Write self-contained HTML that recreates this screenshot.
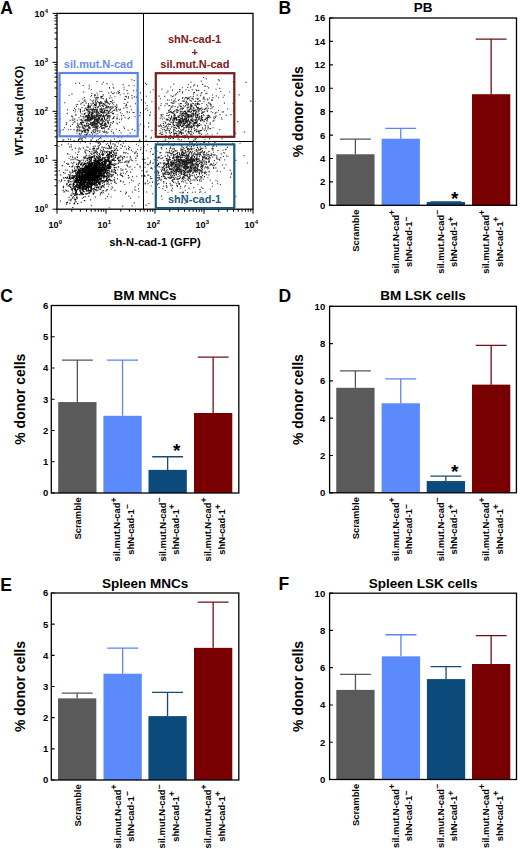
<!DOCTYPE html>
<html><head><meta charset="utf-8"><style>
html,body{margin:0;padding:0;background:#fff;width:520px;height:849px;overflow:hidden}
svg{display:block}
text{font-family:"Liberation Sans",sans-serif}
</style></head><body>
<svg width="520" height="849" viewBox="0 0 520 849">
<rect x="0" y="0" width="520" height="849" fill="#fff"/>
<path d="M104.9 166.2h1.1M60.4 181.7h1.1M72.3 165.7h1.1M70.4 200.0h1.1M69.8 201.0h1.1M85.9 189.9h1.1M70.4 177.5h1.1M130.1 198.1h1.1M135.3 190.2h1.1M89.0 164.5h1.1M67.3 180.9h1.1M130.9 180.1h1.1M119.1 160.3h1.1M110.8 147.7h1.1M123.5 152.2h1.1M79.7 143.0h1.1M59.8 175.0h1.1M68.1 139.1h1.1M133.6 202.9h1.1M90.7 205.8h1.1M90.1 199.9h1.1M63.3 192.0h1.1M75.5 201.6h1.1M132.6 181.0h1.1M119.8 181.3h1.1M74.9 200.1h1.1M61.6 165.9h1.1M87.1 183.6h1.1M109.3 152.0h1.1M84.6 150.1h1.1M73.4 203.8h1.1M98.8 138.5h1.1M138.1 188.9h1.1M74.5 171.6h1.1M116.7 150.1h1.1M87.5 172.3h1.1M92.3 193.3h1.1M109.8 155.1h1.1M94.8 146.1h1.1M132.1 160.7h1.1M103.0 121.1h1.1M84.3 178.5h1.1M105.4 191.1h1.1M99.8 174.9h1.1M68.4 200.0h1.1M76.4 189.9h1.1M131.5 169.4h1.1M119.0 140.9h1.1M104.7 160.8h1.1M94.4 169.0h1.1M124.2 184.5h1.1M125.6 192.0h1.1M135.4 160.8h1.1M81.5 160.0h1.1M86.4 158.2h1.1M90.5 168.3h1.1M162.0 169.8h1.1M127.5 162.6h1.1M73.2 179.3h1.1M83.3 158.9h1.1M87.1 193.5h1.1M101.7 173.6h1.1M104.3 164.9h1.1M162.3 141.2h1.1M125.6 152.5h1.1M125.1 193.6h1.1M90.2 200.0h1.1M95.3 171.4h1.1M92.9 190.8h1.1M99.2 165.6h1.1M119.4 140.7h1.1M127.1 135.3h1.1M93.1 182.5h1.1M140.1 149.6h1.1M115.0 173.5h1.1M139.6 167.8h1.1M88.0 104.7h1.1M131.2 160.3h1.1M85.3 135.1h1.1M77.7 182.1h1.1M109.9 144.0h1.1M119.3 161.3h1.1M167.8 166.5h1.1M95.3 174.4h1.1M127.3 153.5h1.1M98.3 183.1h1.1M157.1 142.1h1.1M133.4 141.2h1.1M69.0 166.5h1.1M128.0 146.2h1.1M105.1 125.9h1.1M101.6 146.7h1.1M102.5 158.7h1.1M72.2 172.5h1.1M84.4 173.5h1.1M110.3 140.1h1.1M107.6 176.4h1.1M145.5 136.1h1.1M78.6 148.0h1.1M86.8 165.7h1.1M113.9 180.2h1.1M113.7 172.3h1.1M98.2 161.4h1.1M77.0 179.2h1.1M141.7 153.3h1.1M113.4 148.1h1.1M95.4 180.5h1.1M72.8 196.7h1.1M129.7 133.1h1.1M77.5 182.1h1.1M107.1 154.3h1.1M94.4 183.1h1.1M128.4 177.4h1.1M106.1 190.1h1.1M85.4 170.6h1.1M159.7 144.3h1.1M85.7 150.3h1.1M71.8 186.1h1.1M86.5 193.9h1.1M118.3 162.8h1.1M120.3 173.0h1.1M100.9 171.4h1.1M86.7 190.8h1.1M128.9 182.8h1.1M91.8 176.2h1.1M92.1 170.5h1.1M73.0 171.7h1.1M103.5 165.9h1.1M71.8 156.2h1.1M83.9 191.9h1.1M162.9 176.2h1.1M134.1 189.7h1.1M143.0 176.1h1.1M92.8 150.1h1.1M138.7 183.5h1.1M114.8 145.3h1.1M132.2 151.8h1.1M179.7 171.6h1.1M84.4 151.6h1.1M113.8 180.1h1.1M100.7 173.9h1.1M103.8 175.5h1.1M113.1 151.7h1.1M92.9 194.4h1.1M141.0 175.9h1.1M123.1 126.8h1.1M84.3 164.2h1.1M135.9 144.2h1.1M137.5 124.4h1.1M103.0 141.9h1.1M73.9 182.1h1.1M138.0 145.7h1.1M81.5 140.2h1.1M85.1 163.1h1.1M107.5 176.0h1.1M75.1 153.0h1.1M121.3 137.7h1.1M134.5 186.9h1.1M144.2 176.4h1.1M102.1 131.3h1.1M67.0 153.6h1.1M98.8 176.9h1.1M113.7 135.3h1.1M86.8 168.6h1.1M175.6 122.8h1.1M98.1 181.2h1.1M62.7 129.6h1.1M112.6 113.5h1.1M110.0 136.3h1.1M107.8 186.7h1.1M92.4 168.1h1.1M97.2 131.6h1.1M126.9 166.3h1.1M126.7 171.2h1.1M89.7 167.4h1.1M108.9 156.5h1.1M126.6 165.2h1.1M131.0 180.2h1.1M80.3 189.0h1.1M78.5 177.0h1.1M90.5 164.0h1.1M97.1 149.1h1.1M127.2 161.0h1.1M114.3 154.7h1.1M94.5 165.2h1.1M108.5 184.6h1.1M152.0 154.5h1.1M90.7 191.5h1.1M95.0 135.6h1.1M147.3 158.3h1.1M104.4 152.9h1.1M103.0 147.8h1.1M99.7 194.9h1.1M103.9 184.4h1.1M122.5 141.7h1.1M103.2 141.4h1.1M92.9 171.6h1.1M120.4 148.4h1.1M125.9 192.6h1.1M90.5 140.2h1.1M92.7 131.0h1.1M104.7 160.2h1.1M90.9 172.5h1.1M88.6 176.2h1.1M107.1 181.3h1.1M62.9 177.8h1.1M130.8 141.6h1.1M78.6 139.2h1.1M101.4 172.7h1.1M103.5 185.2h1.1M98.4 163.0h1.1M110.6 189.1h1.1M102.0 167.7h1.1M90.9 205.7h1.1M128.2 162.2h1.1M72.2 157.6h1.1M122.8 143.3h1.1M129.2 160.3h1.1M103.3 185.6h1.1M109.7 162.2h1.1M69.6 177.0h1.1M92.7 146.9h1.1M91.0 180.8h1.1M77.3 165.5h1.1M120.5 173.6h1.1M128.6 167.1h1.1M61.0 144.9h1.1M150.0 161.1h1.1M85.1 178.0h1.1M156.6 180.2h1.1M110.6 197.0h1.1M70.0 156.7h1.1M64.8 170.0h1.1M144.4 167.3h1.1M87.5 147.2h1.1M142.6 132.2h1.1M79.3 137.8h1.1M131.9 176.6h1.1M93.9 181.0h1.1M95.4 175.0h1.1M139.1 140.6h1.1M89.5 164.1h1.1M136.8 164.4h1.1M93.8 155.2h1.1M89.9 199.8h1.1M109.6 152.6h1.1M76.3 159.8h1.1M144.4 176.0h1.1M124.9 153.2h1.1M106.4 177.3h1.1M113.1 152.7h1.1M96.3 120.1h1.1M97.1 181.4h1.1M113.0 132.2h1.1M103.0 190.5h1.1M103.6 132.1h1.1M58.4 146.2h1.1M105.4 172.3h1.1M114.9 170.4h1.1M79.5 179.9h1.1M78.5 151.3h1.1M93.1 190.8h1.1M107.5 132.2h1.1M76.6 168.7h1.1M105.3 148.1h1.1M138.4 141.8h1.1M117.0 178.9h1.1M108.3 176.6h1.1M134.3 167.3h1.1M77.9 140.5h1.1M120.5 132.7h1.1M113.7 153.1h1.1M106.6 151.8h1.1M95.7 176.8h1.1M70.0 139.4h1.1M99.3 184.2h1.1M108.2 180.6h1.1M113.0 158.2h1.1M100.0 137.5h1.1M92.1 171.8h1.1M97.5 157.3h1.1M115.6 173.2h1.1M85.6 190.8h1.1M74.9 170.1h1.1M107.0 196.6h1.1M73.4 129.6h1.1M84.7 152.7h1.1M80.8 187.8h1.1M105.9 131.9h1.1M114.1 177.6h1.1M101.5 169.3h1.1M62.0 165.5h1.1M143.0 138.2h1.1M89.5 176.8h1.1M88.8 170.9h1.1M99.5 159.8h1.1M98.9 168.7h1.1M134.3 130.6h1.1M114.4 181.7h1.1M130.1 172.1h1.1M141.4 175.7h1.1M138.4 129.3h1.1M128.1 178.3h1.1M136.1 176.3h1.1M77.0 178.7h1.1M124.8 161.9h1.1M86.3 108.1h1.1M81.0 164.2h1.1M177.7 171.2h1.1M100.8 128.2h1.1M89.5 161.1h1.1M108.2 170.5h1.1M130.1 166.7h1.1M145.0 183.0h1.1M101.4 128.4h1.1M134.0 153.1h1.1M147.8 164.7h1.1M87.0 173.2h1.1M114.3 190.4h1.1M144.3 159.2h1.1M96.2 112.1h1.1M71.0 178.6h1.1M95.8 178.5h1.1M125.9 149.1h1.1M85.5 173.3h1.1M107.0 160.0h1.1M123.8 162.3h1.1M107.2 157.7h1.1M113.4 154.9h1.1M73.2 178.6h1.1M86.2 191.5h1.1M86.3 179.6h1.1M97.2 142.8h1.1M101.3 164.4h1.1M108.0 174.7h1.1M145.3 136.6h1.1M145.8 172.0h1.1M87.6 190.9h1.1M74.4 158.1h1.1M149.9 151.8h1.1M108.7 207.7h1.1M151.2 178.5h1.1M143.5 146.5h1.1M93.4 190.9h1.1M87.5 158.9h1.1M90.6 140.4h1.1M81.7 188.7h1.1M76.0 184.6h1.1M94.0 182.2h1.1M123.5 156.5h1.1M91.1 179.3h1.1M90.6 161.1h1.1M91.9 182.2h1.1M70.5 200.2h1.1M140.4 147.9h1.1M67.8 143.9h1.1M109.1 146.4h1.1M131.9 192.0h1.1M136.7 156.4h1.1M76.3 176.8h1.1M95.5 142.1h1.1M73.4 188.4h1.1M120.9 175.4h1.1M90.4 139.8h1.1M111.1 175.1h1.1M141.8 159.3h1.1M117.1 169.8h1.1M127.6 130.3h1.1M122.4 169.5h1.1M120.2 191.4h1.1M115.0 164.0h1.1M148.2 175.2h1.1M112.1 187.8h1.1M105.0 151.3h1.1M94.0 148.6h1.1M111.3 169.6h1.1M101.6 193.3h1.1M83.5 125.6h1.1M137.0 149.3h1.1M70.1 181.6h1.1M77.2 185.9h1.1M68.4 158.2h1.1M107.1 143.3h1.1M71.9 171.2h1.1M97.9 141.9h1.1M149.3 115.7h1.1M108.9 147.2h1.1M151.0 137.2h1.1M72.9 180.7h1.1M125.2 173.7h1.1M81.4 194.7h1.1M113.7 154.9h1.1M115.7 152.2h1.1M76.5 197.1h1.1M74.6 195.2h1.1M63.2 139.7h1.1M69.2 203.4h1.1M105.3 171.3h1.1M118.1 167.1h1.1M60.3 175.0h1.1M76.8 156.7h1.1M127.3 93.6h1.1M92.9 122.8h1.1M92.4 122.8h1.1M81.9 138.8h1.1M109.0 88.1h1.1M99.1 102.9h1.1M106.6 108.0h1.1M107.1 120.9h1.1M99.8 120.2h1.1M83.4 117.5h1.1M79.9 111.3h1.1M111.9 118.7h1.1M107.0 122.4h1.1M143.2 125.5h1.1M85.2 119.7h1.1M100.5 135.3h1.1M74.7 111.8h1.1M119.7 94.8h1.1M74.2 119.3h1.1M109.8 101.6h1.1M118.8 90.8h1.1M93.7 109.8h1.1M111.4 106.2h1.1M60.2 130.4h1.1M96.6 124.5h1.1M70.4 129.5h1.1M102.3 112.3h1.1M108.2 128.9h1.1M88.0 124.8h1.1M116.4 106.2h1.1M105.3 110.3h1.1M90.8 119.8h1.1M94.0 124.9h1.1M69.5 120.3h1.1M102.9 127.5h1.1M144.9 109.0h1.1M94.0 132.7h1.1M103.7 104.8h1.1M80.6 103.2h1.1M110.6 101.6h1.1M107.8 111.2h1.1M100.3 124.7h1.1M67.8 129.7h1.1M88.8 115.9h1.1M128.9 117.6h1.1M91.3 109.5h1.1M116.4 118.6h1.1M96.5 127.9h1.1M59.6 118.9h1.1M108.3 112.6h1.1M101.6 105.1h1.1M83.9 110.0h1.1M82.2 98.8h1.1M95.1 95.1h1.1M91.7 124.0h1.1M103.0 106.6h1.1M97.5 118.7h1.1M95.1 112.1h1.1M87.6 117.1h1.1M76.0 106.5h1.1M96.5 93.0h1.1M93.6 123.2h1.1M109.5 110.1h1.1M112.7 93.6h1.1M101.3 111.5h1.1M76.8 136.0h1.1M97.7 139.8h1.1M109.8 95.9h1.1M98.6 122.8h1.1M98.1 143.5h1.1M98.3 115.5h1.1M116.7 123.9h1.1M88.7 85.0h1.1M119.0 122.3h1.1M85.3 122.0h1.1M83.7 97.5h1.1M99.7 124.3h1.1M105.3 124.8h1.1M70.7 146.9h1.1M102.5 128.5h1.1M76.3 126.9h1.1M118.9 92.5h1.1M123.4 93.8h1.1M128.0 96.9h1.1M115.7 110.0h1.1M88.3 113.8h1.1M116.2 104.9h1.1M101.2 124.8h1.1M111.9 111.2h1.1M97.5 146.2h1.1M102.1 141.7h1.1M100.7 97.6h1.1M126.5 90.6h1.1M91.4 100.8h1.1M131.2 79.7h1.1M149.9 92.2h1.1M71.7 116.4h1.1M92.9 103.5h1.1M81.6 120.5h1.1M101.9 123.4h1.1M88.3 115.5h1.1M96.3 110.9h1.1M121.5 113.7h1.1M118.4 109.4h1.1M106.7 115.9h1.1M105.2 123.5h1.1M95.6 102.4h1.1M103.0 114.8h1.1M105.6 101.7h1.1M105.7 124.3h1.1M113.0 117.2h1.1M71.0 116.1h1.1M121.0 119.7h1.1M122.6 84.6h1.1M109.6 124.0h1.1M76.6 129.9h1.1M117.6 91.6h1.1M87.3 105.7h1.1M95.7 115.8h1.1M105.8 100.6h1.1M109.5 115.8h1.1M112.6 87.3h1.1M110.2 107.6h1.1M101.7 112.6h1.1M82.3 128.0h1.1M95.2 99.1h1.1M96.5 81.6h1.1M78.4 117.7h1.1M87.8 117.5h1.1M113.0 118.4h1.1M64.0 127.7h1.1M74.9 148.1h1.1M104.2 130.8h1.1M110.4 122.5h1.1M99.2 132.1h1.1M62.4 140.1h1.1M96.7 107.9h1.1M80.7 133.6h1.1M116.5 117.3h1.1M99.3 117.3h1.1M102.7 108.7h1.1M101.3 91.4h1.1M94.6 125.9h1.1M115.9 109.2h1.1M113.2 88.2h1.1M107.0 110.9h1.1M126.7 108.0h1.1M88.2 118.9h1.1M119.9 112.8h1.1M108.7 118.9h1.1M74.0 108.4h1.1M96.5 111.5h1.1M93.4 124.0h1.1M95.6 128.7h1.1M109.4 127.4h1.1M106.5 83.6h1.1M93.8 116.3h1.1M106.0 119.9h1.1M81.7 140.9h1.1M111.4 130.0h1.1M113.9 92.8h1.1M111.3 102.0h1.1M101.5 98.3h1.1M95.4 127.4h1.1M75.1 109.9h1.1M105.0 126.9h1.1M82.2 136.7h1.1M81.3 131.0h1.1M102.9 82.2h1.1M79.9 115.9h1.1M134.9 103.7h1.1M66.7 113.4h1.1M105.6 107.1h1.1M78.9 124.3h1.1M107.9 121.2h1.1M83.5 127.0h1.1M101.9 116.2h1.1M94.3 110.8h1.1M91.9 118.3h1.1M107.6 107.3h1.1M129.8 106.3h1.1M88.4 117.8h1.1M120.9 115.6h1.1M91.0 95.5h1.1M106.2 126.4h1.1M136.2 90.3h1.1M69.1 146.9h1.1M88.4 121.4h1.1M73.6 140.5h1.1M103.1 132.2h1.1M92.4 110.4h1.1M104.5 108.6h1.1M131.6 98.1h1.1M112.3 84.3h1.1M91.0 116.4h1.1M106.4 106.5h1.1M123.6 89.2h1.1M101.4 110.1h1.1M94.0 95.9h1.1M116.5 123.2h1.1M76.4 133.3h1.1M96.8 141.2h1.1M100.2 101.5h1.1M102.0 96.4h1.1M85.5 125.8h1.1M84.2 99.9h1.1M98.8 117.3h1.1M92.8 108.1h1.1M109.5 103.5h1.1M102.9 115.3h1.1M102.7 112.6h1.1M86.3 146.9h1.1M85.2 130.7h1.1M97.4 97.3h1.1M78.0 139.6h1.1M96.2 97.4h1.1M88.7 121.2h1.1M78.2 109.0h1.1M105.8 98.9h1.1M95.7 134.0h1.1M81.5 116.6h1.1M84.1 113.9h1.1M97.2 107.4h1.1M144.9 83.3h1.1M71.6 149.6h1.1M92.2 101.9h1.1M88.0 103.5h1.1M119.3 110.3h1.1M83.6 101.1h1.1M128.9 112.3h1.1M80.7 124.6h1.1M95.5 109.5h1.1M71.7 120.1h1.1M75.1 115.3h1.1M87.4 112.7h1.1M114.9 106.7h1.1M121.2 118.2h1.1M94.8 129.6h1.1M104.6 103.0h1.1M88.6 110.0h1.1M105.4 119.8h1.1M91.2 93.6h1.1M107.4 103.1h1.1M86.8 116.6h1.1M90.4 103.7h1.1M97.1 101.4h1.1M102.9 116.4h1.1M75.7 104.7h1.1M123.5 87.3h1.1M87.5 111.7h1.1M112.8 107.1h1.1M94.6 97.6h1.1M126.7 112.7h1.1M59.8 132.3h1.1M133.0 90.7h1.1M93.4 112.1h1.1M74.0 119.0h1.1M95.6 102.3h1.1M144.8 103.0h1.1M109.1 110.7h1.1M77.3 124.8h1.1M97.1 128.5h1.1M117.9 93.1h1.1M78.7 134.1h1.1M96.1 115.7h1.1M88.8 107.4h1.1M140.9 99.9h1.1M85.2 101.2h1.1M125.5 107.2h1.1M82.2 111.3h1.1M87.7 125.8h1.1M124.5 117.8h1.1M113.1 113.2h1.1M65.8 124.6h1.1M109.9 106.9h1.1M107.9 103.4h1.1M81.5 107.6h1.1M96.3 100.0h1.1M103.9 111.3h1.1M93.8 123.9h1.1M78.5 101.3h1.1M87.0 119.5h1.1M97.3 121.4h1.1M76.8 127.8h1.1M92.3 103.7h1.1M79.4 138.9h1.1M93.1 100.3h1.1M101.3 120.9h1.1M90.6 140.1h1.1M101.6 84.1h1.1M133.8 96.9h1.1M123.6 103.5h1.1M76.8 129.3h1.1M116.3 93.0h1.1M100.8 108.1h1.1M89.8 99.7h1.1M89.4 120.7h1.1M101.9 119.0h1.1M118.8 92.8h1.1M102.8 98.6h1.1M89.0 112.7h1.1M87.3 120.0h1.1M92.1 118.1h1.1M108.3 106.5h1.1M131.4 95.6h1.1M73.0 110.5h1.1M82.7 85.5h1.1M95.9 123.5h1.1M94.3 135.4h1.1M97.3 95.0h1.1M104.4 101.1h1.1M76.3 130.5h1.1M86.7 133.4h1.1M123.2 108.1h1.1M111.8 123.2h1.1M107.5 107.6h1.1M92.7 122.5h1.1M94.7 121.3h1.1M104.2 104.4h1.1M97.4 130.5h1.1M83.4 130.7h1.1M104.6 123.3h1.1M112.1 100.4h1.1M87.2 134.0h1.1M110.8 92.1h1.1M113.2 110.4h1.1M68.6 95.3h1.1M93.0 103.0h1.1M102.4 121.2h1.1M107.0 102.5h1.1M111.3 108.5h1.1M66.9 109.7h1.1M84.8 142.4h1.1M120.0 109.2h1.1M100.6 111.9h1.1M108.4 113.4h1.1M106.5 113.3h1.1M133.4 112.5h1.1M79.4 127.4h1.1M108.9 87.5h1.1M83.3 118.8h1.1M118.8 119.2h1.1M125.1 105.8h1.1M72.6 122.7h1.1M109.3 115.5h1.1M94.7 117.2h1.1M97.4 122.4h1.1M90.2 96.8h1.1M75.5 114.6h1.1M86.2 129.6h1.1M108.8 104.5h1.1M115.4 108.5h1.1M100.6 138.8h1.1M72.1 124.5h1.1M139.9 92.9h1.1M114.4 96.8h1.1M101.3 103.4h1.1M80.7 122.7h1.1M80.3 104.3h1.1M90.6 89.5h1.1M90.4 136.7h1.1M125.6 96.4h1.1M107.7 123.4h1.1M106.3 110.7h1.1M82.1 125.0h1.1M87.2 129.1h1.1M89.5 128.4h1.1M96.5 98.4h1.1M101.4 128.2h1.1M88.2 106.3h1.1M105.4 112.3h1.1M117.6 137.0h1.1M124.6 99.5h1.1M105.2 132.2h1.1M79.5 119.8h1.1M102.2 119.7h1.1M124.1 99.4h1.1M91.8 123.0h1.1M94.6 104.2h1.1M87.3 107.5h1.1M107.7 112.7h1.1M94.0 94.9h1.1M80.0 112.7h1.1M98.7 122.1h1.1M111.3 97.8h1.1M112.3 93.5h1.1M108.1 93.0h1.1M114.4 106.3h1.1M91.0 112.9h1.1M93.5 118.4h1.1M113.6 102.3h1.1M89.7 143.6h1.1M95.3 109.5h1.1M93.1 118.2h1.1M86.8 120.3h1.1M79.2 126.7h1.1M99.3 91.3h1.1M92.9 132.0h1.1M92.4 116.6h1.1M94.2 115.4h1.1M77.0 104.5h1.1M125.8 104.1h1.1M90.1 117.5h1.1M110.1 125.1h1.1M74.2 121.9h1.1M83.6 105.4h1.1M94.1 117.8h1.1M88.3 107.1h1.1M91.3 123.3h1.1M95.0 100.9h1.1M124.6 96.7h1.1M95.3 112.3h1.1M96.3 114.3h1.1M89.2 111.9h1.1M137.3 80.2h1.1M126.0 96.9h1.1M104.9 102.0h1.1M111.7 107.9h1.1M85.2 117.5h1.1M83.2 92.1h1.1M102.1 110.6h1.1M109.0 126.2h1.1M86.1 124.8h1.1M89.1 127.0h1.1M110.3 112.8h1.1M101.4 105.5h1.1M105.2 120.6h1.1M126.6 111.5h1.1M91.2 125.3h1.1M105.4 115.2h1.1M76.5 131.5h1.1M112.9 104.8h1.1M81.5 127.0h1.1M77.7 125.7h1.1M95.4 119.7h1.1M133.7 80.5h1.1M84.8 113.0h1.1M80.7 131.4h1.1M104.8 105.4h1.1M88.7 86.7h1.1M127.8 98.3h1.1M64.1 102.8h1.1M82.9 148.1h1.1M174.6 118.5h1.1M196.1 111.5h1.1M176.3 112.6h1.1M184.6 114.5h1.1M162.2 145.6h1.1M208.2 115.7h1.1M191.0 116.5h1.1M196.7 131.0h1.1M198.1 110.9h1.1M184.9 97.6h1.1M164.1 96.4h1.1M216.7 84.2h1.1M180.8 115.9h1.1M207.9 108.3h1.1M227.1 109.0h1.1M174.2 110.9h1.1M184.2 101.1h1.1M181.0 130.3h1.1M215.0 117.8h1.1M179.6 109.4h1.1M173.1 127.3h1.1M220.9 117.8h1.1M206.3 107.9h1.1M173.6 120.2h1.1M201.9 127.9h1.1M238.5 94.9h1.1M218.0 97.7h1.1M176.1 111.7h1.1M174.9 98.8h1.1M173.5 119.5h1.1M190.1 109.8h1.1M197.8 126.3h1.1M191.8 89.7h1.1M201.0 130.4h1.1M164.7 127.0h1.1M184.2 135.7h1.1M204.8 86.3h1.1M210.4 106.0h1.1M195.2 129.9h1.1M187.3 115.3h1.1M174.9 94.9h1.1M186.6 108.0h1.1M165.0 135.5h1.1M193.0 85.7h1.1M167.0 99.9h1.1M192.9 114.1h1.1M139.8 124.2h1.1M197.7 119.1h1.1M202.0 84.4h1.1M137.9 109.9h1.1M208.0 87.9h1.1M207.7 127.4h1.1M170.1 108.2h1.1M162.4 127.5h1.1M209.8 104.6h1.1M185.9 97.6h1.1M206.7 121.0h1.1M185.5 117.4h1.1M178.9 125.9h1.1M190.5 82.3h1.1M159.8 98.8h1.1M159.6 126.0h1.1M171.7 118.3h1.1M170.1 135.8h1.1M221.5 119.3h1.1M157.8 125.9h1.1M167.8 119.9h1.1M203.0 112.1h1.1M204.0 130.2h1.1M218.8 80.8h1.1M223.9 103.1h1.1M197.1 103.4h1.1M197.6 101.6h1.1M164.6 140.6h1.1M168.2 110.7h1.1M175.3 101.8h1.1M190.8 122.9h1.1M165.8 125.3h1.1M171.3 118.0h1.1M173.7 118.9h1.1M210.0 108.8h1.1M193.0 103.6h1.1M189.0 125.7h1.1M187.3 120.6h1.1M204.7 129.0h1.1M186.7 135.7h1.1M190.8 126.2h1.1M158.7 126.4h1.1M200.7 107.7h1.1M200.2 95.6h1.1M216.1 146.1h1.1M195.0 105.1h1.1M199.0 116.3h1.1M232.8 110.7h1.1M181.9 92.9h1.1M160.6 114.5h1.1M168.4 117.5h1.1M193.1 92.8h1.1M196.9 85.9h1.1M197.6 98.5h1.1M212.4 121.3h1.1M197.3 120.2h1.1M164.3 127.3h1.1M177.2 119.7h1.1M146.3 108.3h1.1M187.5 125.4h1.1M169.3 131.2h1.1M182.2 97.6h1.1M187.4 116.9h1.1M154.9 128.8h1.1M197.0 98.9h1.1M193.9 92.5h1.1M160.6 117.2h1.1M184.0 99.0h1.1M204.1 111.8h1.1M186.6 120.2h1.1M205.3 108.6h1.1M190.4 108.5h1.1M203.4 97.1h1.1M207.1 137.4h1.1M171.9 90.1h1.1M206.1 123.3h1.1M204.3 109.7h1.1M193.3 111.2h1.1M177.3 110.4h1.1M173.8 117.4h1.1M173.5 100.9h1.1M168.7 100.2h1.1M191.2 109.3h1.1M179.0 89.6h1.1M193.5 124.4h1.1M196.9 127.2h1.1M203.0 77.5h1.1M210.7 104.7h1.1M180.5 121.0h1.1M196.4 110.1h1.1M186.2 121.4h1.1M192.5 123.4h1.1M191.0 126.4h1.1M191.6 142.0h1.1M166.0 126.2h1.1M154.0 147.7h1.1M179.7 89.8h1.1M207.3 99.7h1.1M164.3 105.7h1.1M207.4 126.0h1.1M199.6 146.9h1.1M197.2 117.2h1.1M165.3 103.7h1.1M183.8 113.6h1.1M186.9 114.3h1.1M150.3 138.3h1.1M200.3 124.9h1.1M193.4 126.6h1.1M127.2 102.4h1.1M209.6 124.4h1.1M184.2 106.7h1.1M187.7 103.6h1.1M205.1 127.8h1.1M179.5 113.4h1.1M160.2 105.5h1.1M171.1 100.0h1.1M181.7 117.8h1.1M232.4 103.3h1.1M230.5 114.6h1.1M179.0 115.4h1.1M178.0 110.8h1.1M206.0 130.9h1.1M194.4 101.5h1.1M187.8 138.6h1.1M173.4 125.7h1.1M222.6 97.3h1.1M204.3 99.7h1.1M164.6 131.8h1.1M155.3 124.0h1.1M169.4 112.1h1.1M191.1 109.1h1.1M192.7 99.2h1.1M184.9 120.2h1.1M161.9 129.7h1.1M190.1 107.4h1.1M197.0 104.5h1.1M186.6 110.0h1.1M193.1 140.4h1.1M197.9 107.3h1.1M182.9 105.8h1.1M167.3 120.0h1.1M194.9 120.7h1.1M165.1 123.0h1.1M203.4 101.7h1.1M194.3 105.1h1.1M172.8 124.8h1.1M194.8 116.0h1.1M212.7 106.6h1.1M140.0 112.6h1.1M178.0 100.5h1.1M168.2 138.5h1.1M193.8 129.0h1.1M174.0 143.7h1.1M188.2 115.5h1.1M156.4 151.3h1.1M160.6 128.3h1.1M178.3 116.7h1.1M179.1 91.6h1.1M188.8 99.1h1.1M191.0 101.2h1.1M214.6 113.7h1.1M212.5 127.7h1.1M197.3 99.7h1.1M174.5 127.4h1.1M187.7 118.1h1.1M196.7 95.1h1.1M190.1 87.1h1.1M202.7 99.2h1.1M180.4 115.1h1.1M220.1 91.5h1.1M180.7 114.5h1.1M190.5 120.0h1.1M218.2 79.6h1.1M159.6 144.9h1.1M181.9 87.7h1.1M159.5 130.7h1.1M180.1 124.4h1.1M180.8 103.6h1.1M170.4 95.7h1.1M196.0 119.5h1.1M170.2 111.8h1.1M192.4 124.1h1.1M173.8 134.6h1.1M181.6 116.7h1.1M164.6 126.6h1.1M206.8 119.3h1.1M169.0 130.6h1.1M193.1 94.0h1.1M182.5 119.2h1.1M187.2 123.1h1.1M209.9 103.9h1.1M191.5 114.3h1.1M154.8 129.7h1.1M195.9 106.5h1.1M131.7 129.4h1.1M182.1 91.8h1.1M189.8 131.5h1.1M159.6 118.5h1.1M191.3 115.0h1.1M171.8 96.6h1.1M223.8 95.2h1.1M174.6 106.6h1.1M243.7 132.1h1.1M204.3 86.1h1.1M170.6 106.5h1.1M181.3 133.2h1.1M219.4 114.6h1.1M170.2 87.0h1.1M192.9 114.7h1.1M190.5 126.8h1.1M158.4 109.1h1.1M187.0 125.5h1.1M167.9 115.6h1.1M154.6 115.2h1.1M180.6 111.3h1.1M215.5 89.3h1.1M205.7 78.9h1.1M203.9 142.4h1.1M187.2 105.7h1.1M191.5 98.2h1.1M218.0 110.5h1.1M193.2 108.8h1.1M190.0 134.9h1.1M179.5 113.4h1.1M210.4 106.2h1.1M233.8 88.3h1.1M178.7 121.3h1.1M151.4 130.6h1.1M201.4 103.5h1.1M199.4 135.3h1.1M185.6 102.8h1.1M205.5 93.6h1.1M186.9 107.8h1.1M169.7 133.5h1.1M157.4 137.6h1.1M194.4 125.5h1.1M158.3 107.2h1.1M195.2 113.4h1.1M165.0 123.3h1.1M180.1 112.7h1.1M164.1 129.7h1.1M167.4 91.1h1.1M182.6 120.9h1.1M199.6 108.8h1.1M200.8 81.1h1.1M184.4 113.5h1.1M184.9 141.5h1.1M219.2 88.4h1.1M199.0 116.9h1.1M197.2 103.9h1.1M192.8 96.4h1.1M206.6 86.5h1.1M202.8 97.7h1.1M209.7 122.9h1.1M207.6 115.8h1.1M168.2 112.4h1.1M185.2 131.8h1.1M185.5 112.3h1.1M184.8 103.1h1.1M191.8 118.2h1.1M186.9 98.1h1.1M177.1 92.4h1.1M190.6 133.8h1.1M146.7 105.6h1.1M206.8 111.5h1.1M187.2 87.4h1.1M172.9 121.3h1.1M195.5 105.4h1.1M191.9 103.3h1.1M173.4 84.1h1.1M155.8 129.8h1.1M167.2 124.5h1.1M171.3 107.4h1.1M215.7 95.9h1.1M180.9 134.2h1.1M177.0 107.1h1.1M171.1 127.3h1.1M171.3 103.0h1.1M197.1 114.4h1.1M157.2 141.8h1.1M157.7 173.1h1.1M206.5 117.9h1.1M192.2 118.1h1.1M188.3 137.0h1.1M197.7 90.5h1.1M213.1 117.0h1.1M148.1 126.9h1.1M180.9 106.7h1.1M215.6 115.9h1.1M178.5 122.6h1.1M192.8 133.1h1.1M194.1 84.9h1.1M185.8 119.1h1.1M163.8 118.2h1.1M174.5 116.4h1.1M151.3 101.8h1.1M204.9 119.4h1.1M160.1 132.9h1.1M198.4 90.3h1.1M150.0 112.2h1.1M182.7 101.4h1.1M173.3 145.5h1.1M182.2 114.9h1.1M203.6 98.5h1.1M211.5 108.1h1.1M211.1 100.1h1.1M188.6 116.9h1.1M195.8 121.5h1.1M194.9 114.9h1.1M205.6 118.1h1.1M172.7 101.8h1.1M207.9 102.9h1.1M191.4 105.3h1.1M209.0 103.0h1.1M196.4 107.8h1.1M195.5 98.2h1.1M173.2 115.9h1.1M188.2 129.4h1.1M162.0 119.0h1.1M174.2 100.2h1.1M189.8 122.5h1.1M210.1 117.2h1.1M164.7 122.3h1.1M245.4 82.4h1.1M180.2 103.7h1.1M208.8 98.0h1.1M214.6 116.9h1.1M150.7 148.6h1.1M185.0 117.7h1.1M212.0 95.0h1.1M134.5 116.7h1.1M204.1 109.5h1.1M176.0 128.2h1.1M188.2 131.3h1.1M207.2 136.6h1.1M159.0 136.7h1.1M198.9 123.5h1.1M169.1 105.5h1.1M184.4 136.1h1.1M207.0 117.3h1.1M199.4 118.4h1.1M201.4 113.5h1.1M198.5 132.6h1.1M171.1 112.1h1.1M197.7 118.9h1.1M222.8 111.9h1.1M186.0 101.4h1.1M195.5 89.8h1.1M187.8 121.1h1.1M233.1 89.7h1.1M164.4 137.6h1.1M203.4 115.7h1.1M192.3 98.2h1.1M195.6 115.0h1.1M177.5 138.9h1.1M166.2 120.3h1.1M182.4 112.2h1.1M182.0 98.1h1.1M173.5 135.9h1.1M184.3 148.8h1.1M188.2 90.5h1.1M212.0 112.8h1.1M185.4 130.5h1.1M172.3 113.4h1.1M173.2 116.0h1.1M191.3 98.7h1.1M188.6 116.3h1.1M210.7 111.7h1.1M229.1 92.0h1.1M215.0 112.7h1.1M165.3 130.4h1.1M178.5 99.6h1.1M192.1 136.0h1.1M191.2 132.0h1.1M162.2 116.8h1.1M194.7 139.9h1.1M173.1 130.4h1.1M195.3 111.9h1.1M203.3 137.4h1.1M145.7 96.2h1.1M147.1 110.4h1.1M185.4 127.4h1.1M198.0 104.0h1.1M190.1 96.7h1.1M198.4 133.4h1.1M134.7 152.9h1.1M170.6 102.5h1.1M170.8 112.7h1.1M188.9 127.8h1.1M180.4 148.5h1.1M166.3 92.7h1.1M178.8 123.5h1.1M232.8 81.7h1.1M187.9 84.5h1.1M183.9 113.6h1.1M175.9 93.9h1.1M181.5 147.2h1.1M191.3 163.1h1.1M188.2 148.4h1.1M223.0 156.5h1.1M170.9 171.5h1.1M199.4 177.0h1.1M200.5 160.6h1.1M190.8 170.4h1.1M182.0 165.0h1.1M166.6 169.6h1.1M170.7 155.1h1.1M205.3 173.0h1.1M216.2 158.6h1.1M172.8 164.7h1.1M197.6 165.8h1.1M196.0 158.4h1.1M204.0 151.6h1.1M193.4 167.8h1.1M201.2 177.4h1.1M203.7 157.5h1.1M159.7 158.7h1.1M186.1 159.5h1.1M161.5 199.2h1.1M146.8 171.3h1.1M176.9 185.8h1.1M157.4 174.7h1.1M200.4 171.6h1.1M206.2 158.7h1.1M175.4 151.1h1.1M183.4 163.1h1.1M191.9 192.2h1.1M182.2 167.1h1.1M192.6 172.2h1.1M193.0 160.5h1.1M178.4 168.5h1.1M174.1 175.8h1.1M179.7 175.7h1.1M212.0 186.2h1.1M179.6 169.5h1.1M214.5 154.7h1.1M180.4 161.0h1.1M208.2 142.5h1.1M158.4 156.9h1.1M177.2 179.0h1.1M189.1 142.5h1.1M202.7 179.3h1.1M188.2 177.5h1.1M225.1 149.4h1.1M184.3 153.3h1.1M193.3 165.1h1.1M177.0 171.0h1.1M223.7 168.1h1.1M200.8 152.5h1.1M193.9 159.7h1.1M156.5 177.5h1.1M193.4 161.2h1.1M176.3 163.0h1.1M188.1 144.8h1.1M198.2 142.0h1.1M170.7 164.3h1.1M190.8 162.8h1.1M208.4 172.0h1.1M200.2 191.7h1.1M188.5 188.4h1.1M169.2 178.5h1.1M182.7 192.6h1.1M163.2 174.2h1.1M204.1 154.1h1.1M199.1 192.2h1.1M160.3 163.1h1.1M185.8 162.2h1.1M162.2 172.7h1.1M131.6 205.9h1.1M208.0 151.8h1.1M212.9 167.6h1.1M158.1 172.4h1.1M169.1 158.0h1.1M192.5 168.1h1.1M181.1 171.4h1.1M166.7 159.7h1.1M174.4 160.6h1.1M179.8 159.5h1.1M181.1 181.5h1.1M193.5 170.6h1.1M184.2 171.1h1.1M175.3 177.6h1.1M186.1 161.3h1.1M158.2 183.6h1.1M212.3 150.1h1.1M149.3 163.8h1.1M183.1 159.5h1.1M194.9 166.9h1.1M195.8 165.0h1.1M196.8 177.0h1.1M204.5 139.2h1.1M165.5 172.1h1.1M187.9 171.8h1.1M186.4 155.0h1.1M179.3 173.1h1.1M174.7 166.3h1.1M207.2 145.3h1.1M178.7 184.4h1.1M172.8 154.5h1.1M186.5 180.0h1.1M181.9 163.7h1.1M186.7 155.2h1.1M180.0 158.3h1.1M191.5 156.0h1.1M186.6 156.4h1.1M197.7 166.6h1.1M205.6 136.5h1.1M176.7 186.7h1.1M222.0 165.0h1.1M184.8 185.6h1.1M196.0 151.3h1.1M181.0 139.7h1.1M179.4 161.9h1.1M150.0 178.4h1.1M219.0 159.3h1.1M171.2 166.2h1.1M172.4 171.4h1.1M208.0 161.4h1.1M182.6 149.0h1.1M230.6 174.3h1.1M214.4 142.8h1.1M201.9 165.1h1.1M196.6 177.4h1.1M198.6 152.9h1.1M162.8 176.0h1.1M197.4 184.2h1.1M189.1 162.8h1.1M182.9 182.0h1.1M193.4 168.5h1.1M161.1 179.5h1.1M207.3 168.9h1.1M210.6 155.6h1.1M162.4 173.4h1.1M194.1 176.8h1.1M217.5 159.4h1.1M197.3 169.7h1.1M163.3 160.5h1.1M169.1 173.9h1.1M208.4 174.9h1.1M225.5 164.7h1.1M168.6 178.3h1.1M186.0 160.9h1.1M170.4 165.4h1.1M183.9 173.9h1.1M199.0 180.9h1.1M186.9 167.8h1.1M180.0 186.4h1.1M225.5 149.3h1.1M189.4 181.6h1.1M180.0 157.0h1.1M208.9 161.6h1.1M183.3 154.9h1.1M186.4 175.8h1.1M207.5 167.0h1.1M164.2 163.4h1.1M198.3 153.6h1.1M204.9 155.0h1.1M193.7 145.8h1.1M180.3 157.8h1.1M183.7 157.4h1.1M158.6 187.5h1.1M190.7 183.5h1.1M191.0 160.1h1.1M202.4 157.9h1.1M191.0 168.5h1.1M178.0 163.8h1.1M170.7 169.6h1.1M190.0 176.8h1.1M190.9 168.7h1.1M209.6 157.9h1.1M185.2 160.5h1.1M184.1 187.0h1.1M182.9 160.9h1.1M178.9 171.7h1.1M178.8 157.0h1.1M143.9 175.3h1.1M158.2 178.9h1.1M163.6 170.7h1.1M198.3 169.9h1.1M186.2 168.3h1.1M184.5 150.5h1.1M199.6 133.2h1.1M172.1 185.3h1.1M206.3 152.7h1.1M200.6 181.1h1.1M174.2 172.0h1.1M212.0 148.4h1.1M163.2 183.0h1.1M165.3 171.6h1.1M183.6 168.6h1.1M191.1 153.8h1.1M186.4 175.5h1.1M152.2 193.8h1.1M179.7 163.1h1.1M193.1 187.7h1.1M232.3 143.4h1.1M213.9 160.6h1.1M183.0 147.8h1.1M159.2 152.8h1.1M202.3 188.4h1.1M171.6 191.0h1.1M195.8 178.6h1.1M187.2 145.4h1.1M180.9 172.3h1.1M193.7 170.1h1.1M181.6 170.2h1.1M178.0 174.2h1.1M212.1 146.3h1.1M197.5 161.3h1.1M177.0 156.3h1.1M171.7 168.3h1.1M192.2 170.0h1.1M194.7 154.4h1.1M202.0 158.2h1.1M212.9 152.2h1.1M196.0 164.1h1.1M170.4 185.0h1.1M226.0 156.0h1.1M210.5 163.6h1.1M196.9 145.2h1.1M210.7 153.9h1.1M163.1 186.3h1.1M176.9 159.8h1.1M176.1 165.6h1.1M205.4 148.1h1.1M170.9 190.0h1.1M179.5 164.1h1.1M212.5 148.6h1.1M201.9 169.6h1.1M184.7 182.0h1.1M224.2 159.9h1.1M166.7 187.0h1.1M196.6 166.3h1.1M182.6 167.1h1.1M195.0 158.6h1.1M180.1 163.1h1.1M169.4 165.9h1.1M192.8 169.7h1.1M162.4 174.6h1.1M197.5 164.4h1.1M183.8 176.0h1.1M204.2 160.2h1.1M173.4 154.6h1.1M171.6 162.6h1.1M190.1 151.7h1.1M202.3 137.2h1.1M149.3 182.2h1.1M184.6 152.7h1.1M193.6 148.3h1.1M156.5 164.5h1.1M174.5 182.8h1.1M197.9 159.2h1.1M176.0 183.8h1.1M175.1 170.3h1.1M217.3 150.5h1.1M172.1 179.7h1.1M173.7 179.5h1.1M144.8 183.9h1.1M162.7 162.7h1.1M162.6 170.1h1.1M214.2 142.1h1.1M208.7 155.9h1.1M164.2 176.6h1.1M229.7 170.4h1.1M207.3 177.7h1.1M186.6 175.8h1.1M206.1 172.3h1.1M195.2 167.0h1.1M184.4 203.4h1.1M160.9 196.1h1.1M181.2 202.9h1.1M188.7 171.3h1.1M182.3 174.0h1.1M177.8 183.8h1.1M206.0 162.5h1.1M168.7 177.7h1.1M199.6 149.8h1.1M182.1 180.8h1.1M189.8 167.8h1.1M169.7 183.6h1.1M186.1 164.5h1.1M165.4 152.2h1.1M156.9 184.4h1.1M191.6 180.2h1.1M181.0 152.9h1.1M198.5 150.4h1.1M191.2 161.7h1.1M167.4 171.0h1.1M168.8 151.9h1.1M148.3 203.5h1.1M170.5 185.9h1.1M208.7 151.3h1.1M207.8 136.3h1.1M202.8 165.9h1.1M200.9 187.3h1.1M201.4 172.3h1.1M200.9 176.7h1.1M151.1 168.0h1.1M171.9 175.5h1.1M202.9 142.1h1.1M217.1 181.3h1.1M193.9 171.8h1.1M172.7 145.3h1.1M172.4 148.7h1.1M179.0 176.0h1.1M170.5 174.8h1.1M150.1 176.5h1.1M192.4 172.9h1.1M187.0 192.6h1.1M184.6 172.5h1.1M211.5 135.0h1.1M197.4 161.2h1.1M168.7 156.9h1.1M194.6 154.0h1.1M160.5 180.8h1.1M205.9 157.9h1.1M187.6 153.2h1.1M183.4 167.9h1.1M194.3 153.9h1.1M216.3 163.0h1.1M177.5 167.3h1.1M170.3 178.0h1.1M225.2 149.6h1.1M190.4 175.2h1.1M214.3 155.3h1.1M174.5 171.3h1.1M191.8 157.9h1.1M175.7 172.8h1.1M191.6 142.6h1.1M192.9 198.8h1.1M171.8 163.7h1.1M216.3 157.5h1.1M191.4 159.2h1.1M147.3 175.1h1.1M184.3 173.0h1.1M167.9 167.3h1.1M162.6 170.3h1.1M170.5 155.3h1.1M174.4 159.7h1.1M182.8 153.4h1.1M179.6 192.5h1.1M146.9 164.4h1.1M172.6 158.4h1.1M204.2 163.0h1.1M167.4 192.2h1.1M191.6 143.5h1.1M189.2 146.3h1.1M179.2 171.3h1.1M194.1 168.5h1.1M167.2 155.9h1.1M172.1 149.2h1.1M164.0 162.9h1.1M198.7 172.1h1.1M212.3 157.0h1.1M177.4 179.8h1.1M208.9 157.5h1.1M147.0 180.9h1.1M173.0 179.7h1.1M167.6 172.3h1.1M220.0 157.8h1.1M172.2 160.5h1.1M199.0 154.7h1.1M150.6 186.0h1.1M188.1 163.3h1.1M194.4 154.5h1.1M189.0 174.4h1.1M138.3 191.5h1.1M190.2 165.5h1.1M199.0 152.7h1.1M215.3 167.9h1.1M204.6 192.2h1.1M152.0 169.0h1.1M176.7 150.8h1.1M200.6 151.8h1.1M167.8 161.8h1.1M192.3 148.7h1.1M173.1 156.7h1.1M192.1 175.7h1.1M204.6 171.3h1.1M179.7 188.3h1.1M243.6 155.6h1.1M187.8 160.3h1.1M197.8 176.6h1.1M170.5 164.9h1.1M186.7 162.4h1.1M177.1 155.3h1.1M164.6 190.5h1.1M162.3 188.6h1.1M190.4 159.5h1.1M184.0 163.8h1.1M137.7 185.1h1.1M147.5 183.6h1.1M184.6 178.3h1.1M185.9 167.9h1.1M199.9 167.1h1.1M157.5 158.3h1.1M196.8 159.3h1.1M173.8 148.6h1.1M184.7 190.3h1.1M190.0 183.4h1.1M208.3 168.0h1.1M201.9 175.4h1.1M211.8 183.2h1.1M177.8 182.0h1.1M175.0 150.7h1.1M164.2 172.3h1.1M166.8 143.9h1.1M176.1 160.2h1.1M173.0 155.8h1.1M200.2 161.7h1.1M196.5 168.1h1.1M197.3 151.0h1.1M188.1 162.6h1.1M208.2 162.5h1.1M188.4 164.1h1.1M204.3 158.0h1.1M186.5 136.1h1.1M198.9 156.6h1.1M188.9 176.0h1.1M164.6 178.0h1.1M153.6 159.8h1.1M222.5 150.2h1.1M195.2 167.0h1.1M191.2 152.6h1.1M186.5 175.4h1.1M174.9 160.7h1.1M239.5 143.2h1.1M165.4 173.0h1.1M194.8 192.1h1.1M184.6 163.3h1.1M163.3 167.9h1.1M165.9 183.4h1.1M171.7 166.1h1.1M181.2 171.1h1.1M168.5 144.5h1.1M203.4 164.4h1.1M164.6 174.4h1.1M189.2 149.3h1.1M220.0 171.8h1.1M202.7 157.8h1.1M164.6 172.2h1.1M126.0 172.0h1.1M196.1 142.5h1.1M193.9 156.8h1.1M169.6 153.4h1.1M212.9 163.3h1.1M182.8 179.1h1.1M186.3 158.7h1.1M160.7 155.5h1.1M191.2 159.9h1.1M174.4 157.6h1.1M178.1 171.9h1.1M207.9 161.2h1.1M189.1 160.3h1.1M159.0 177.6h1.1M204.1 173.6h1.1M209.6 180.0h1.1M169.1 166.4h1.1M182.4 177.4h1.1M186.9 163.5h1.1M177.8 156.3h1.1M194.4 180.2h1.1M200.7 166.5h1.1M178.2 171.5h1.1M227.4 156.3h1.1M172.8 169.6h1.1M172.4 158.4h1.1M231.1 173.1h1.1M235.3 160.4h1.1M188.6 169.2h1.1M187.3 178.7h1.1M171.9 188.4h1.1M207.5 156.5h1.1M192.5 172.0h1.1M169.6 168.7h1.1M197.1 171.0h1.1M211.5 154.3h1.1M209.7 189.3h1.1M226.9 147.4h1.1M210.7 164.4h1.1M197.0 168.7h1.1M184.8 163.0h1.1M201.0 173.3h1.1M209.4 157.3h1.1M201.3 156.0h1.1M206.7 159.3h1.1M187.9 156.5h1.1M206.1 174.8h1.1M212.2 165.3h1.1M187.8 178.7h1.1M156.9 160.2h1.1M220.4 157.8h1.1M194.6 153.9h1.1M178.9 170.5h1.1M196.5 179.3h1.1M183.2 171.1h1.1M148.1 123.1h1.1M219.3 160.3h1.1M213.3 120.6h1.1M175.7 179.2h1.1M93.8 152.3h1.1M143.4 127.0h1.1M118.0 143.0h1.1M93.5 132.5h1.1M138.4 126.1h1.1M144.5 183.3h1.1M165.9 187.1h1.1M115.8 129.3h1.1M71.4 94.1h1.1M221.5 138.6h1.1M185.5 89.8h1.1M177.1 122.7h1.1M177.0 168.3h1.1M100.8 120.9h1.1M216.8 133.3h1.1M100.1 103.2h1.1M205.5 135.0h1.1M143.8 159.3h1.1M216.4 112.2h1.1M146.1 84.4h1.1M123.2 115.6h1.1M225.8 115.4h1.1M178.7 139.7h1.1M95.4 130.9h1.1M107.8 194.0h1.1M219.3 129.7h1.1M136.6 155.3h1.1M135.8 97.1h1.1M88.5 88.7h1.1M169.4 109.5h1.1M200.7 148.9h1.1M132.5 112.5h1.1M90.7 159.4h1.1M235.1 133.1h1.1M123.9 128.4h1.1M149.4 114.7h1.1M145.5 205.1h1.1M72.5 120.1h1.1M106.9 161.5h1.1M138.2 197.0h1.1M170.3 148.2h1.1M145.6 140.3h1.1M203.8 152.5h1.1M230.0 177.1h1.1M116.3 163.7h1.1M237.2 121.6h1.1M205.5 158.4h1.1M183.0 155.4h1.1M169.1 148.3h1.1M235.2 196.2h1.1M143.1 148.2h1.1M162.4 141.7h1.1M102.1 116.4h1.1M191.1 101.1h1.1M174.6 133.4h1.1M204.5 161.9h1.1M146.1 192.0h1.1M230.5 136.3h1.1M127.7 118.6h1.1M165.8 119.1h1.1M89.5 192.9h1.1M114.2 144.3h1.1M169.8 119.4h1.1M122.2 170.3h1.1M133.6 85.7h1.1M147.1 144.7h1.1M172.6 138.2h1.1M201.1 134.4h1.1M201.2 92.6h1.1M215.4 180.2h1.1M128.4 85.6h1.1M70.7 144.9h1.1M139.4 166.4h1.1M250.2 101.1h1.1M189.6 142.8h1.1M145.7 150.8h1.1M114.3 171.8h1.1M78.9 83.1h1.1M102.8 161.2h1.1M123.0 141.7h1.1M161.3 148.9h1.1M177.5 107.0h1.1M74.1 121.4h1.1M178.3 104.0h1.1M119.0 130.5h1.1M197.5 165.8h1.1M121.5 157.0h1.1M105.1 198.7h1.1M102.5 151.5h1.1M219.9 184.5h1.1M209.0 138.6h1.1M89.8 172.3h1.1M75.1 83.5h1.1M181.6 193.0h1.1M203.1 161.8h1.1M165.6 132.9h1.1M224.6 144.7h1.1M109.0 157.5h1.1M80.8 138.9h1.1M160.6 103.7h1.1M211.2 148.7h1.1M68.4 154.2h1.1M208.7 160.2h1.1M130.8 109.8h1.1M168.2 142.8h1.1M143.5 163.0h1.1M163.3 121.7h1.1M203.9 90.8h1.1M113.9 116.7h1.1M216.9 183.7h1.1M207.4 128.9h1.1M209.5 165.1h1.1M197.4 112.3h1.1M126.0 105.4h1.1M120.2 144.6h1.1M116.1 142.1h1.1M83.8 200.5h1.1M118.4 160.9h1.1M122.1 206.1h1.1M185.5 195.9h1.1M92.7 124.2h1.1M221.6 112.0h1.1M82.7 147.8h1.1M191.3 154.3h1.1M209.8 164.6h1.1M158.5 96.1h1.1M200.4 93.7h1.1M152.7 89.7h1.1M60.2 84.9h1.1M178.0 135.9h1.1M222.8 152.8h1.1M63.8 161.9h1.1M125.0 140.7h1.1M176.9 198.2h1.1M175.6 109.9h1.1M220.6 153.9h1.1M190.0 179.9h1.1M187.1 172.3h1.1M161.5 89.1h1.1M207.1 133.7h1.1M139.4 115.6h1.1M150.3 168.3h1.1M162.1 134.4h1.1M247.0 163.0h1.1M193.4 179.9h1.1" stroke="#3a3a3a" stroke-width="1.1" fill="none"/>
<path d="M83.8 187.0h1.1M106.3 175.2h1.1M90.7 160.9h1.1M91.1 188.2h1.1M86.9 169.9h1.1M110.9 146.3h1.1M80.7 178.0h1.1M73.8 167.0h1.1M91.8 172.3h1.1M86.9 179.2h1.1M87.9 172.5h1.1M105.5 169.2h1.1M117.3 150.5h1.1M70.2 187.4h1.1M86.5 158.4h1.1M95.8 169.9h1.1M88.9 163.8h1.1M89.8 168.1h1.1M89.7 172.6h1.1M110.1 161.8h1.1M79.1 161.0h1.1M84.3 158.4h1.1M93.3 167.5h1.1M99.2 172.8h1.1M94.7 174.6h1.1M114.0 167.6h1.1M102.3 180.7h1.1M100.3 172.4h1.1M94.2 170.3h1.1M75.1 171.3h1.1M78.0 170.3h1.1M77.7 176.4h1.1M99.2 170.3h1.1M86.3 178.8h1.1M80.2 180.4h1.1M97.4 166.4h1.1M105.9 170.0h1.1M71.7 188.9h1.1M120.2 156.0h1.1M97.2 172.2h1.1M90.4 166.6h1.1M103.9 151.2h1.1M98.8 173.3h1.1M89.0 179.3h1.1M124.3 146.8h1.1M77.7 177.1h1.1M106.7 189.6h1.1M102.4 155.5h1.1M78.9 178.6h1.1M95.1 173.2h1.1M93.8 156.8h1.1M129.1 147.5h1.1M92.9 193.4h1.1M99.7 178.1h1.1M107.8 168.8h1.1M99.5 174.1h1.1M78.9 182.6h1.1M106.2 173.9h1.1M95.6 167.7h1.1M98.8 162.2h1.1M111.3 159.8h1.1M114.3 167.5h1.1M102.6 168.7h1.1M103.2 172.5h1.1M68.1 164.1h1.1M100.0 181.1h1.1M111.5 187.0h1.1M97.1 184.8h1.1M94.5 166.4h1.1M78.6 171.1h1.1M118.0 157.3h1.1M119.3 140.9h1.1M93.7 179.7h1.1M97.6 161.8h1.1M97.2 180.2h1.1M120.4 168.8h1.1M89.4 149.1h1.1M97.8 171.6h1.1M87.9 166.5h1.1M88.7 157.2h1.1M77.5 174.7h1.1M103.2 161.6h1.1M91.0 185.4h1.1M93.7 152.3h1.1M102.8 177.3h1.1M121.8 175.9h1.1M98.2 175.1h1.1M112.4 164.5h1.1M82.1 178.9h1.1M96.7 154.4h1.1M94.9 176.6h1.1M99.9 171.3h1.1M100.2 175.3h1.1M122.8 181.9h1.1M71.1 195.7h1.1M101.9 170.3h1.1M83.1 197.4h1.1M104.1 147.2h1.1M61.0 179.9h1.1M78.9 176.7h1.1M67.9 181.0h1.1M121.8 159.7h1.1M75.2 180.0h1.1M106.6 183.1h1.1M96.3 187.7h1.1M74.4 193.9h1.1M88.1 170.1h1.1M107.8 168.6h1.1M97.1 178.4h1.1M102.0 152.1h1.1M92.0 176.4h1.1M99.1 175.7h1.1M90.9 175.5h1.1M108.8 179.5h1.1M128.4 161.4h1.1M95.3 159.7h1.1M98.4 169.1h1.1M81.6 169.2h1.1M87.8 182.1h1.1M110.4 148.6h1.1M84.8 188.4h1.1M84.5 182.1h1.1M99.2 178.9h1.1M88.2 173.0h1.1M113.9 139.0h1.1M72.2 207.5h1.1M99.0 165.1h1.1M112.8 174.3h1.1M81.9 184.4h1.1M89.9 181.8h1.1M111.5 180.8h1.1M119.6 156.9h1.1M90.2 190.4h1.1M64.5 173.2h1.1M113.5 167.7h1.1M114.8 153.2h1.1M89.6 172.2h1.1M64.2 191.7h1.1M117.2 158.7h1.1M101.7 185.5h1.1M100.0 143.9h1.1M94.6 170.8h1.1M85.7 167.8h1.1M95.4 184.0h1.1M113.1 152.2h1.1M117.6 159.8h1.1M62.9 187.6h1.1M85.8 184.6h1.1M125.6 161.0h1.1M87.6 170.3h1.1M76.3 183.7h1.1M86.9 158.3h1.1M95.2 173.6h1.1M98.6 178.0h1.1M85.1 170.1h1.1M97.1 182.2h1.1M76.8 157.5h1.1M89.0 151.6h1.1M75.7 166.6h1.1M88.2 168.9h1.1M93.1 171.6h1.1M112.7 156.6h1.1M99.8 165.8h1.1M97.6 177.0h1.1M99.8 160.9h1.1M93.4 155.7h1.1M103.0 149.2h1.1M114.2 182.4h1.1M106.5 133.2h1.1M112.7 155.4h1.1M102.8 182.3h1.1M92.0 178.0h1.1M102.5 154.6h1.1M102.2 165.0h1.1M98.6 178.0h1.1M81.4 194.3h1.1M64.3 180.5h1.1M104.2 172.8h1.1M107.2 164.6h1.1M112.5 171.2h1.1M85.1 193.9h1.1M107.5 157.1h1.1M79.2 163.3h1.1M102.7 169.5h1.1M111.0 180.5h1.1M87.8 183.4h1.1M88.1 177.7h1.1M76.3 170.4h1.1M75.1 195.0h1.1M97.8 161.1h1.1M96.1 169.8h1.1M108.2 161.8h1.1M108.7 178.9h1.1M80.8 168.5h1.1M96.8 162.2h1.1M80.4 160.8h1.1M106.3 168.1h1.1M96.8 163.2h1.1M83.7 183.1h1.1M88.9 161.2h1.1M93.7 166.5h1.1M96.7 181.5h1.1M106.5 159.8h1.1M122.4 158.4h1.1M92.9 177.9h1.1M88.1 170.5h1.1M98.9 179.3h1.1M89.9 175.7h1.1M70.5 199.1h1.1M87.5 150.7h1.1M93.7 150.7h1.1M72.5 159.6h1.1M84.8 166.5h1.1M87.5 188.0h1.1M108.9 167.2h1.1M73.7 184.5h1.1M91.4 174.1h1.1M126.5 157.2h1.1M94.0 167.0h1.1M103.8 168.7h1.1M93.8 172.6h1.1M66.1 163.5h1.1M92.3 167.2h1.1M108.5 177.2h1.1M78.5 176.7h1.1M98.9 165.5h1.1M108.9 152.9h1.1M107.1 155.6h1.1M79.4 194.6h1.1M79.9 177.3h1.1M66.7 177.4h1.1M92.1 134.1h1.1M100.2 159.4h1.1M93.5 147.0h1.1M72.3 163.6h1.1M83.3 187.9h1.1M100.1 175.1h1.1M85.4 153.3h1.1M88.0 185.3h1.1M99.6 172.4h1.1M99.5 157.3h1.1M102.4 173.8h1.1M71.2 166.8h1.1M58.7 180.7h1.1M83.1 160.7h1.1M90.9 159.3h1.1M96.4 179.7h1.1M81.4 163.3h1.1M78.8 167.3h1.1M99.5 155.2h1.1M95.4 172.1h1.1M94.8 166.0h1.1M86.4 186.5h1.1M82.3 170.2h1.1M89.9 157.8h1.1M78.1 175.7h1.1M77.7 182.6h1.1M85.1 165.6h1.1M113.3 160.5h1.1M108.0 183.0h1.1M112.0 150.9h1.1M93.4 171.6h1.1M98.4 184.0h1.1M71.8 178.2h1.1M82.1 168.6h1.1M108.6 146.9h1.1M101.8 170.0h1.1M108.1 167.0h1.1M103.9 161.8h1.1M95.0 170.3h1.1M99.4 182.3h1.1M101.5 175.8h1.1M96.2 151.8h1.1M101.2 165.3h1.1M102.3 165.9h1.1M101.1 174.2h1.1M82.9 175.5h1.1M87.5 167.1h1.1M79.1 175.2h1.1M98.6 145.4h1.1M65.4 190.1h1.1M88.4 167.0h1.1M130.8 150.3h1.1M84.2 164.7h1.1M76.5 177.2h1.1M89.0 161.9h1.1M106.7 148.4h1.1M96.6 177.0h1.1M100.7 159.9h1.1M98.7 172.4h1.1M83.2 164.2h1.1M139.2 139.8h1.1M86.1 155.2h1.1M84.6 171.0h1.1M85.1 170.4h1.1M103.4 170.7h1.1M101.5 167.2h1.1M104.5 160.7h1.1M101.5 175.2h1.1M75.9 185.2h1.1M105.3 168.9h1.1M94.9 178.9h1.1M90.4 171.9h1.1M72.4 181.7h1.1M88.6 177.9h1.1M82.2 173.3h1.1M96.5 173.2h1.1M80.9 192.9h1.1M100.3 176.1h1.1M94.3 165.3h1.1M71.8 170.0h1.1M85.7 175.3h1.1M82.1 177.0h1.1M113.7 169.8h1.1M88.8 171.3h1.1M75.8 191.8h1.1M86.0 169.9h1.1M105.6 160.1h1.1M95.8 189.8h1.1M105.2 180.5h1.1M86.6 183.0h1.1M123.3 152.9h1.1M101.9 152.8h1.1M113.6 163.2h1.1M76.6 183.0h1.1M80.7 182.2h1.1M106.8 154.8h1.1M92.0 171.4h1.1M90.1 170.6h1.1M101.2 168.9h1.1M85.4 193.5h1.1M107.6 165.0h1.1M85.5 155.9h1.1M95.8 157.0h1.1M76.3 163.2h1.1M97.3 158.1h1.1M88.1 181.1h1.1M110.3 163.6h1.1M107.0 153.7h1.1M109.0 162.9h1.1M97.6 158.4h1.1M95.4 151.8h1.1M101.4 154.4h1.1M99.0 183.9h1.1M88.4 157.7h1.1M97.9 182.5h1.1M82.9 194.0h1.1M86.2 173.4h1.1M103.6 162.8h1.1M110.9 150.8h1.1M85.9 175.5h1.1M85.9 183.8h1.1M115.0 155.5h1.1M88.1 186.3h1.1M130.4 159.1h1.1M97.4 171.9h1.1M84.3 180.9h1.1M108.1 159.5h1.1M120.3 155.9h1.1M68.3 174.5h1.1M118.7 157.7h1.1M92.0 174.0h1.1M110.5 148.0h1.1M101.7 190.9h1.1M67.2 177.0h1.1M96.7 157.6h1.1M109.2 162.8h1.1M112.8 133.3h1.1M114.2 146.3h1.1M95.7 150.3h1.1M85.9 164.0h1.1M86.7 173.6h1.1M92.4 175.1h1.1M89.4 186.7h1.1M95.5 178.8h1.1M66.0 204.1h1.1M100.6 172.6h1.1M91.6 166.0h1.1M136.8 153.7h1.1M102.5 158.2h1.1M84.5 169.2h1.1M111.3 176.6h1.1M82.1 188.0h1.1M87.6 177.2h1.1M73.0 193.9h1.1M119.7 162.7h1.1M95.1 152.6h1.1M77.8 180.2h1.1M87.1 160.5h1.1M108.6 161.3h1.1M97.7 159.2h1.1M107.8 176.9h1.1M85.7 182.2h1.1M81.2 169.1h1.1M95.9 168.5h1.1M100.6 150.7h1.1M83.4 178.0h1.1M82.2 185.0h1.1M112.1 160.5h1.1M70.7 162.8h1.1M107.8 156.3h1.1M101.0 171.3h1.1M108.7 163.5h1.1M125.6 162.0h1.1M96.9 152.3h1.1M108.5 166.3h1.1M78.2 173.2h1.1M86.1 177.9h1.1M106.0 166.6h1.1M120.0 160.2h1.1M110.8 151.2h1.1M128.0 148.5h1.1M92.3 156.9h1.1M89.4 156.0h1.1M111.9 164.3h1.1M94.6 168.9h1.1M84.5 156.9h1.1M75.2 172.8h1.1M108.6 160.0h1.1M88.7 192.7h1.1M107.8 173.1h1.1M79.5 189.9h1.1M99.7 144.2h1.1M79.8 178.8h1.1M109.1 165.2h1.1M74.8 188.2h1.1M90.9 177.2h1.1M109.7 156.1h1.1M93.5 191.8h1.1M104.1 181.0h1.1M87.5 173.4h1.1M110.7 183.3h1.1M97.5 160.8h1.1M86.1 190.1h1.1M113.6 179.6h1.1M78.2 169.6h1.1M82.4 181.7h1.1M92.8 166.6h1.1M88.1 180.4h1.1M128.4 149.8h1.1M84.2 200.6h1.1M108.3 167.2h1.1M108.4 159.8h1.1M73.6 198.0h1.1M69.0 184.2h1.1M100.4 161.0h1.1M100.8 192.5h1.1M95.3 159.1h1.1M107.7 154.4h1.1M89.7 173.5h1.1M73.8 171.2h1.1M103.6 176.2h1.1M77.2 172.1h1.1M95.9 162.0h1.1M95.8 164.2h1.1M69.8 175.0h1.1M112.5 143.9h1.1M110.7 160.3h1.1M120.2 180.9h1.1M82.4 187.1h1.1M93.3 179.6h1.1M78.4 162.5h1.1M88.7 173.4h1.1M72.2 170.8h1.1M105.1 171.6h1.1M96.5 165.4h1.1M100.0 166.3h1.1M87.1 173.7h1.1M109.3 152.1h1.1M88.6 155.2h1.1M59.9 201.0h1.1M77.8 164.4h1.1M87.1 160.4h1.1M106.4 157.7h1.1M86.4 166.7h1.1M92.7 174.1h1.1M91.2 184.3h1.1M105.4 165.1h1.1M89.6 175.5h1.1M86.4 175.6h1.1M89.2 183.8h1.1M91.8 149.0h1.1M89.3 177.7h1.1M66.0 178.2h1.1M96.3 153.3h1.1M84.9 176.4h1.1M97.4 162.9h1.1M103.2 170.6h1.1M117.7 166.8h1.1M95.9 140.3h1.1M86.2 174.5h1.1M103.6 187.2h1.1M81.7 189.2h1.1M126.3 165.0h1.1M101.4 166.0h1.1M105.8 144.2h1.1M83.8 163.4h1.1M70.2 195.3h1.1M121.5 162.4h1.1M91.8 162.6h1.1M95.0 166.0h1.1M96.9 171.1h1.1M93.6 148.9h1.1M100.1 161.5h1.1M81.8 198.3h1.1M122.3 176.8h1.1M86.7 173.8h1.1M98.7 189.1h1.1M115.7 148.4h1.1M102.8 153.9h1.1M77.1 154.5h1.1M74.3 195.5h1.1M94.8 164.9h1.1M115.6 183.4h1.1M95.4 173.0h1.1M78.4 183.2h1.1M73.3 162.4h1.1M85.8 194.0h1.1M95.6 164.5h1.1M105.2 160.2h1.1M96.3 141.5h1.1M89.8 184.3h1.1M103.6 175.3h1.1M98.9 159.2h1.1M88.1 175.3h1.1M94.9 174.2h1.1M129.8 156.7h1.1M98.1 168.4h1.1M116.9 175.0h1.1M87.2 171.8h1.1M91.8 164.2h1.1M68.1 182.4h1.1M79.8 149.0h1.1M106.7 151.3h1.1M129.7 157.3h1.1M112.9 160.0h1.1M99.5 156.1h1.1M97.4 171.9h1.1M74.7 158.9h1.1M90.8 168.8h1.1M106.2 167.9h1.1M87.8 182.9h1.1M103.2 154.1h1.1M86.2 186.6h1.1M80.6 202.2h1.1M78.1 175.9h1.1M75.7 191.9h1.1M66.6 170.2h1.1M99.2 142.4h1.1M95.4 176.5h1.1M98.0 167.8h1.1M112.0 159.9h1.1M108.9 152.5h1.1M86.0 172.1h1.1M117.8 163.3h1.1M109.9 179.9h1.1M93.5 167.8h1.1M91.4 151.7h1.1M82.2 193.9h1.1M87.2 182.2h1.1M97.1 176.2h1.1M104.2 165.1h1.1M102.9 192.2h1.1M93.4 171.4h1.1M111.2 164.3h1.1M103.7 140.6h1.1M102.1 157.4h1.1M108.4 151.6h1.1M88.9 173.3h1.1M92.4 175.4h1.1M94.8 160.3h1.1M100.4 186.7h1.1M81.5 165.8h1.1M115.1 149.8h1.1M93.3 173.5h1.1M74.1 168.7h1.1M104.8 169.5h1.1M123.9 156.9h1.1M94.2 166.4h1.1M122.8 173.2h1.1M89.1 174.5h1.1M89.5 176.7h1.1M79.6 168.4h1.1M83.1 157.3h1.1M116.7 146.5h1.1M76.8 178.2h1.1M114.9 149.9h1.1M85.1 185.7h1.1M77.8 152.3h1.1M99.8 152.1h1.1M93.0 148.5h1.1M106.3 177.8h1.1M68.5 181.0h1.1M96.8 161.8h1.1M74.1 170.5h1.1M135.6 151.9h1.1M89.4 168.3h1.1M98.6 169.6h1.1M67.1 164.1h1.1M94.8 183.9h1.1M79.0 185.4h1.1M111.5 164.5h1.1M98.2 182.3h1.1M101.4 162.5h1.1M84.2 174.9h1.1M91.9 180.4h1.1M115.1 160.5h1.1M79.8 177.1h1.1M69.9 187.5h1.1M97.5 161.5h1.1M82.9 186.6h1.1M94.0 181.5h1.1M107.4 160.8h1.1M94.1 193.0h1.1M98.1 148.4h1.1M83.9 174.3h1.1M125.3 169.1h1.1M110.8 153.2h1.1M79.0 161.1h1.1M99.8 183.1h1.1M86.3 182.2h1.1M90.6 157.9h1.1M115.2 164.8h1.1M68.7 175.3h1.1M99.8 149.7h1.1M75.4 181.3h1.1M80.0 174.0h1.1M63.5 178.0h1.1M121.9 146.1h1.1M89.8 160.8h1.1M98.5 167.7h1.1M85.2 176.0h1.1M113.9 165.3h1.1M62.8 186.4h1.1M87.4 158.4h1.1M117.9 137.3h1.1M88.0 171.3h1.1M103.8 182.1h1.1M109.0 170.0h1.1M79.7 172.3h1.1M100.5 177.1h1.1M101.4 150.7h1.1M103.3 176.0h1.1M97.7 162.9h1.1M94.3 179.3h1.1M102.7 171.6h1.1M93.9 166.8h1.1M116.9 158.1h1.1M98.7 153.8h1.1M90.9 171.4h1.1M66.9 202.4h1.1M128.3 196.3h1.1M109.3 168.0h1.1M82.5 179.3h1.1M61.1 180.8h1.1M84.9 189.5h1.1M98.1 147.0h1.1M75.3 173.4h1.1M90.4 177.0h1.1M90.9 157.6h1.1M120.6 170.3h1.1M100.8 178.8h1.1M90.1 165.9h1.1M83.9 170.4h1.1M109.9 142.9h1.1M101.5 147.7h1.1M96.0 174.2h1.1M78.9 188.4h1.1M85.8 180.2h1.1M104.3 166.2h1.1M81.5 172.1h1.1M109.2 163.9h1.1M91.3 154.0h1.1M98.9 166.8h1.1M112.3 175.4h1.1M109.3 175.6h1.1M80.2 174.2h1.1M88.3 170.1h1.1M135.2 158.1h1.1M88.2 196.1h1.1M79.5 161.9h1.1M107.1 155.7h1.1M93.9 173.1h1.1M90.4 187.6h1.1M71.5 175.6h1.1M105.9 169.7h1.1M107.2 157.2h1.1M127.9 175.5h1.1M98.0 172.6h1.1M108.5 158.3h1.1M78.4 176.9h1.1M103.2 176.7h1.1M89.2 181.8h1.1M90.9 159.0h1.1M96.0 125.7h1.1M99.2 127.3h1.1M90.4 124.3h1.1M89.3 134.9h1.1M93.7 123.1h1.1M89.9 106.7h1.1M88.5 120.5h1.1M92.5 117.2h1.1M82.4 136.6h1.1M88.6 116.6h1.1M91.3 118.1h1.1M80.9 123.3h1.1M82.0 131.4h1.1M97.6 116.8h1.1M93.5 129.9h1.1M101.8 119.9h1.1M92.2 123.2h1.1M100.0 116.2h1.1M92.5 122.3h1.1M84.3 130.6h1.1M101.4 127.6h1.1M79.8 109.4h1.1M98.2 113.9h1.1M92.7 124.1h1.1M97.2 127.8h1.1M95.0 107.9h1.1M104.3 112.9h1.1M104.0 118.3h1.1M99.5 109.8h1.1M88.1 106.7h1.1M98.0 112.2h1.1M94.6 107.2h1.1M100.5 119.7h1.1M90.6 114.7h1.1M104.2 127.2h1.1M112.1 103.1h1.1M90.5 115.3h1.1M90.2 118.6h1.1M86.4 116.6h1.1M96.1 121.5h1.1M103.5 125.0h1.1M85.3 126.3h1.1M85.0 138.0h1.1M91.8 112.6h1.1M84.6 132.3h1.1M107.6 129.0h1.1M88.4 111.4h1.1M108.6 117.3h1.1M112.0 113.4h1.1M87.7 107.5h1.1M83.4 116.2h1.1M81.2 122.9h1.1M93.6 129.8h1.1M92.5 117.0h1.1M78.9 133.2h1.1M98.4 122.4h1.1M94.9 120.0h1.1M100.1 115.9h1.1M90.4 120.2h1.1M100.7 124.2h1.1M85.3 120.7h1.1M99.4 130.9h1.1M80.2 130.2h1.1M91.3 114.6h1.1M108.5 111.6h1.1M97.8 120.5h1.1M87.2 107.0h1.1M88.5 127.4h1.1M97.8 102.6h1.1M84.8 120.7h1.1M103.9 117.6h1.1M90.9 114.3h1.1M89.3 127.9h1.1M99.7 110.2h1.1M104.0 128.8h1.1M95.2 117.6h1.1M91.7 110.3h1.1M88.7 114.0h1.1M87.2 117.6h1.1M98.3 116.7h1.1M91.5 122.2h1.1M99.6 123.7h1.1M90.5 124.9h1.1M84.4 130.5h1.1M91.2 125.7h1.1M90.2 122.2h1.1M95.9 120.7h1.1M106.6 114.8h1.1M86.3 135.2h1.1M92.5 115.7h1.1M69.9 126.2h1.1M82.9 122.7h1.1M92.1 124.3h1.1M66.1 122.9h1.1M78.8 130.1h1.1M97.6 120.5h1.1M92.1 116.0h1.1M88.0 114.6h1.1M97.3 133.7h1.1M116.4 110.9h1.1M91.9 119.2h1.1M94.8 131.9h1.1M112.6 113.9h1.1M93.1 109.4h1.1M104.9 135.2h1.1M98.1 106.2h1.1M94.1 116.9h1.1M93.4 109.3h1.1M96.3 118.0h1.1M80.5 120.0h1.1M101.1 112.4h1.1M100.8 123.5h1.1M88.2 127.5h1.1M87.6 123.4h1.1M108.7 120.2h1.1M87.2 117.4h1.1M99.4 123.7h1.1M97.4 113.1h1.1M96.2 119.4h1.1M83.6 130.2h1.1M99.4 115.4h1.1M100.6 112.4h1.1M96.5 109.3h1.1M102.9 105.0h1.1M99.0 118.9h1.1M99.2 113.2h1.1M99.7 102.2h1.1M88.7 117.8h1.1M103.1 103.5h1.1M106.2 106.7h1.1M100.6 114.6h1.1M107.7 106.7h1.1M97.0 110.0h1.1M88.1 125.5h1.1M95.5 104.4h1.1M82.2 102.6h1.1M96.9 116.0h1.1M87.1 109.9h1.1M99.1 104.9h1.1M92.1 109.3h1.1M92.4 127.2h1.1M91.6 109.8h1.1M100.7 115.4h1.1M86.6 121.9h1.1M85.0 116.1h1.1M83.7 114.1h1.1M92.1 125.7h1.1M98.5 118.6h1.1M105.2 115.8h1.1M116.6 114.8h1.1M103.9 112.0h1.1M102.7 113.3h1.1M101.6 110.4h1.1M104.1 110.2h1.1M89.7 120.0h1.1M94.6 109.8h1.1M106.2 126.7h1.1M84.0 110.8h1.1M92.1 123.6h1.1M92.7 124.8h1.1M92.9 121.7h1.1M80.6 123.0h1.1M96.8 114.4h1.1M91.6 116.9h1.1M89.5 113.0h1.1M96.2 116.4h1.1M97.2 111.9h1.1M87.1 120.5h1.1M96.7 123.2h1.1M77.4 125.2h1.1M80.5 136.9h1.1M77.3 129.7h1.1M107.0 110.3h1.1M81.4 132.3h1.1M98.5 116.9h1.1M99.6 103.7h1.1M86.9 118.4h1.1M101.3 103.2h1.1M107.9 106.8h1.1M104.4 116.0h1.1M116.1 107.5h1.1M95.9 112.1h1.1M89.2 124.5h1.1M89.7 107.3h1.1M79.9 111.1h1.1M80.5 123.9h1.1M81.7 124.7h1.1M102.7 94.9h1.1M81.4 114.0h1.1M96.5 121.7h1.1M85.3 119.6h1.1M86.7 109.6h1.1M103.8 132.0h1.1M92.0 122.6h1.1M83.9 125.9h1.1M87.4 132.2h1.1M85.0 120.4h1.1M103.9 124.6h1.1M101.1 96.5h1.1M95.0 104.9h1.1M106.2 105.2h1.1M93.7 111.6h1.1M100.3 126.4h1.1M76.7 120.2h1.1M90.4 115.1h1.1M80.0 135.1h1.1M94.6 123.7h1.1M110.5 112.2h1.1M98.0 118.1h1.1M112.8 121.6h1.1M89.0 119.1h1.1M85.1 129.3h1.1M94.8 126.3h1.1M89.6 119.9h1.1M101.1 108.7h1.1M105.7 102.4h1.1M85.6 120.7h1.1M85.9 115.6h1.1M90.2 117.0h1.1M83.9 113.5h1.1M87.1 129.3h1.1M86.8 110.1h1.1M106.7 126.3h1.1M105.1 124.3h1.1M90.9 132.6h1.1M92.1 118.4h1.1M78.8 128.0h1.1M106.5 118.2h1.1M87.7 126.7h1.1M94.8 123.3h1.1M87.2 118.2h1.1M95.1 128.0h1.1M82.5 122.1h1.1M82.0 131.6h1.1M97.7 97.8h1.1M92.6 113.5h1.1M98.3 119.2h1.1M106.6 101.5h1.1M91.1 117.1h1.1M101.8 118.5h1.1M93.8 118.0h1.1M108.5 116.3h1.1M85.6 103.1h1.1M99.0 119.1h1.1M94.7 122.8h1.1M88.3 108.9h1.1M95.8 103.9h1.1M83.6 137.5h1.1M87.8 114.2h1.1M87.9 118.3h1.1M94.8 123.6h1.1M78.4 130.9h1.1M101.5 115.7h1.1M83.7 120.2h1.1M93.8 121.6h1.1M95.7 127.4h1.1M83.8 131.9h1.1M80.0 110.8h1.1M84.2 134.7h1.1M87.6 125.5h1.1M87.3 116.3h1.1M100.8 125.4h1.1M85.8 109.5h1.1M102.2 128.7h1.1M106.0 100.3h1.1M104.8 123.2h1.1M85.1 126.9h1.1M83.1 116.3h1.1M89.8 123.6h1.1M94.3 121.4h1.1M92.4 125.4h1.1M93.1 129.8h1.1M101.2 102.4h1.1M96.7 120.6h1.1M95.2 124.5h1.1M90.8 118.9h1.1M87.8 115.4h1.1M99.1 103.9h1.1M101.0 118.8h1.1M105.8 114.5h1.1M67.8 136.5h1.1M89.7 109.6h1.1M107.6 117.1h1.1M100.3 96.9h1.1M95.0 119.1h1.1M77.9 126.7h1.1M89.5 105.7h1.1M90.3 123.3h1.1M80.4 130.2h1.1M96.7 129.9h1.1M112.6 122.2h1.1M101.5 109.0h1.1M104.1 118.4h1.1M91.7 131.0h1.1M109.2 98.1h1.1M81.4 122.5h1.1M101.4 127.0h1.1M82.0 126.9h1.1M103.2 109.0h1.1M95.7 113.9h1.1M99.6 111.5h1.1M91.7 114.8h1.1M97.2 122.6h1.1M101.4 123.4h1.1M78.8 130.0h1.1M94.2 104.6h1.1M100.7 112.2h1.1M83.9 113.9h1.1M90.8 115.4h1.1M102.2 122.4h1.1M116.5 118.8h1.1M98.9 117.2h1.1M89.1 112.9h1.1M94.3 125.9h1.1M72.3 118.0h1.1M86.4 119.2h1.1M102.0 125.4h1.1M95.9 123.9h1.1M87.8 111.1h1.1M91.1 105.0h1.1M101.3 119.5h1.1M95.7 116.2h1.1M95.8 110.8h1.1M97.4 119.1h1.1M91.0 115.8h1.1M87.9 105.6h1.1M85.8 134.6h1.1M99.7 106.3h1.1M80.0 122.6h1.1M93.4 105.9h1.1M95.4 119.5h1.1M97.9 106.6h1.1M97.4 121.2h1.1M86.1 123.7h1.1M107.0 116.1h1.1M93.5 115.2h1.1M91.7 114.3h1.1M84.9 108.1h1.1M95.7 105.9h1.1M103.4 116.1h1.1M110.8 131.8h1.1M77.0 123.2h1.1M86.1 116.1h1.1M96.5 119.3h1.1M109.1 108.0h1.1M93.5 112.3h1.1M93.8 119.4h1.1M94.6 102.0h1.1M91.8 117.7h1.1M98.3 123.0h1.1M103.3 125.3h1.1M82.7 128.1h1.1M99.6 110.3h1.1M99.3 117.6h1.1M97.6 125.8h1.1M88.4 128.8h1.1M91.9 113.1h1.1M105.8 110.2h1.1M94.3 127.6h1.1M83.1 122.3h1.1M90.5 108.8h1.1M85.3 132.1h1.1M80.2 135.8h1.1M95.7 126.2h1.1M89.7 123.7h1.1M89.0 117.1h1.1M88.1 120.1h1.1M91.4 110.9h1.1M87.9 115.2h1.1M87.1 119.8h1.1M88.5 119.2h1.1M104.1 119.4h1.1M94.9 105.5h1.1M100.3 111.7h1.1M96.2 110.5h1.1M78.2 149.0h1.1M88.4 126.7h1.1M90.1 118.7h1.1M99.6 120.9h1.1M83.1 130.1h1.1M101.9 105.9h1.1M103.9 123.7h1.1M93.3 126.2h1.1M103.8 125.7h1.1M97.4 126.5h1.1M92.6 127.5h1.1M98.4 115.4h1.1M85.6 116.2h1.1M87.7 131.8h1.1M90.1 123.2h1.1M96.7 122.5h1.1M86.5 125.9h1.1M99.7 106.0h1.1M81.6 121.1h1.1M110.1 109.4h1.1M106.9 118.4h1.1M86.1 123.6h1.1M97.4 119.7h1.1M109.4 116.8h1.1M88.8 115.6h1.1M84.1 125.1h1.1M89.5 112.0h1.1M114.1 110.1h1.1M85.0 130.2h1.1M95.9 112.1h1.1M86.2 110.1h1.1M92.5 118.3h1.1M96.4 126.0h1.1M90.5 119.1h1.1M99.5 108.9h1.1M101.6 117.3h1.1M81.2 119.3h1.1M105.6 107.6h1.1M88.0 130.4h1.1M95.1 109.8h1.1M91.5 112.9h1.1M104.0 111.1h1.1M96.3 115.3h1.1M100.6 109.7h1.1M95.1 119.5h1.1M102.3 112.5h1.1M92.2 111.3h1.1M106.2 99.8h1.1M91.6 125.4h1.1M108.3 115.4h1.1M104.3 121.7h1.1M91.4 112.9h1.1M95.7 127.7h1.1M101.2 118.9h1.1M83.8 128.6h1.1M87.1 130.4h1.1M103.4 117.3h1.1M92.1 138.1h1.1M99.3 103.0h1.1M95.4 123.2h1.1M95.4 115.9h1.1M93.9 116.8h1.1M103.0 121.0h1.1M96.4 124.3h1.1M86.8 115.9h1.1M92.1 117.8h1.1M102.9 112.0h1.1M95.4 103.4h1.1M107.6 113.5h1.1M96.6 115.4h1.1M93.8 120.5h1.1M84.1 131.8h1.1M107.8 122.6h1.1M100.5 112.5h1.1M89.8 119.4h1.1M196.3 126.3h1.1M188.6 111.0h1.1M181.4 132.2h1.1M174.1 129.3h1.1M176.5 109.3h1.1M180.6 111.8h1.1M174.2 119.6h1.1M186.0 119.5h1.1M194.7 123.8h1.1M189.6 115.1h1.1M176.4 131.5h1.1M155.7 117.9h1.1M173.1 96.0h1.1M175.9 120.1h1.1M190.3 120.8h1.1M199.9 108.7h1.1M197.5 103.7h1.1M188.5 121.3h1.1M202.5 129.0h1.1M200.8 110.7h1.1M181.9 113.6h1.1M183.8 111.6h1.1M200.0 130.5h1.1M183.5 119.3h1.1M181.0 126.6h1.1M180.6 132.5h1.1M188.0 127.7h1.1M174.3 115.4h1.1M195.8 122.9h1.1M183.6 127.6h1.1M201.1 116.1h1.1M200.3 121.3h1.1M169.2 121.1h1.1M195.1 113.6h1.1M178.0 117.3h1.1M201.1 118.6h1.1M187.1 111.9h1.1M185.1 122.7h1.1M187.2 107.7h1.1M177.9 121.2h1.1M186.3 115.0h1.1M187.7 116.6h1.1M183.1 121.1h1.1M187.5 116.1h1.1M173.0 122.5h1.1M182.5 100.7h1.1M175.6 133.8h1.1M188.4 111.6h1.1M188.2 115.2h1.1M188.6 109.6h1.1M182.0 129.8h1.1M212.4 97.7h1.1M183.7 124.3h1.1M190.1 127.7h1.1M182.4 135.7h1.1M203.4 121.6h1.1M181.6 126.4h1.1M190.3 105.3h1.1M179.2 133.8h1.1M191.8 127.0h1.1M183.5 127.6h1.1M196.9 121.0h1.1M181.6 121.3h1.1M173.6 119.5h1.1M192.9 125.5h1.1M176.6 134.9h1.1M170.8 116.0h1.1M195.6 122.7h1.1M166.0 130.2h1.1M195.4 122.5h1.1M181.3 123.4h1.1M179.0 132.3h1.1M190.7 126.0h1.1M194.2 123.1h1.1M173.5 111.6h1.1M185.6 126.5h1.1M192.9 115.9h1.1M188.3 107.1h1.1M186.5 125.0h1.1M171.7 112.5h1.1M178.0 130.8h1.1M184.5 135.2h1.1M189.8 112.2h1.1M193.8 123.6h1.1M189.3 121.3h1.1M201.3 117.7h1.1M176.7 110.4h1.1M182.9 125.8h1.1M181.2 122.2h1.1M206.9 115.8h1.1M163.5 129.3h1.1M191.6 126.3h1.1M190.3 119.3h1.1M187.8 124.2h1.1M213.6 118.6h1.1M197.4 115.1h1.1M196.2 123.3h1.1M176.3 125.4h1.1M191.7 121.0h1.1M179.1 117.1h1.1M188.0 125.1h1.1M191.2 127.7h1.1M179.6 121.0h1.1M194.1 122.4h1.1M203.1 114.8h1.1M191.5 106.0h1.1M188.3 121.0h1.1M169.7 138.6h1.1M194.3 110.5h1.1M189.6 100.6h1.1M183.6 121.8h1.1M177.7 116.7h1.1M198.4 130.6h1.1M176.5 122.9h1.1M193.1 115.5h1.1M171.6 119.7h1.1M176.4 125.6h1.1M183.1 115.0h1.1M166.9 119.4h1.1M184.8 118.9h1.1M187.5 110.7h1.1M176.2 135.6h1.1M190.3 106.1h1.1M179.0 121.5h1.1M188.2 111.5h1.1M182.3 107.9h1.1M186.2 134.1h1.1M172.2 105.9h1.1M172.7 138.5h1.1M172.9 112.0h1.1M177.5 123.7h1.1M209.8 128.6h1.1M187.9 98.4h1.1M166.2 115.5h1.1M197.8 125.4h1.1M187.9 119.6h1.1M179.2 117.0h1.1M189.6 116.9h1.1M189.7 108.3h1.1M179.7 122.9h1.1M187.5 131.9h1.1M185.4 115.6h1.1M175.5 125.0h1.1M191.2 127.5h1.1M191.2 134.7h1.1M176.1 118.1h1.1M177.6 125.6h1.1M186.2 113.6h1.1M191.7 110.3h1.1M187.0 114.7h1.1M174.1 118.6h1.1M186.6 102.7h1.1M179.8 103.5h1.1M188.5 111.0h1.1M197.4 114.8h1.1M180.2 132.7h1.1M181.8 116.0h1.1M178.4 120.9h1.1M178.5 128.4h1.1M208.1 115.4h1.1M194.2 114.0h1.1M166.9 127.3h1.1M196.0 131.4h1.1M178.3 119.4h1.1M195.1 110.1h1.1M180.2 106.6h1.1M184.9 123.4h1.1M185.6 116.6h1.1M195.7 131.9h1.1M184.2 116.6h1.1M185.7 126.4h1.1M187.0 127.0h1.1M196.1 129.3h1.1M169.0 114.7h1.1M190.6 131.1h1.1M183.9 119.9h1.1M179.8 120.8h1.1M191.5 113.4h1.1M170.6 122.4h1.1M180.2 118.4h1.1M168.3 105.7h1.1M192.4 120.5h1.1M180.6 122.0h1.1M182.3 111.9h1.1M188.8 117.0h1.1M177.0 144.2h1.1M191.0 120.0h1.1M176.2 119.9h1.1M188.5 133.4h1.1M181.2 113.8h1.1M192.8 114.3h1.1M190.7 111.6h1.1M202.2 109.1h1.1M189.5 123.9h1.1M182.3 125.9h1.1M177.4 116.1h1.1M191.3 115.2h1.1M201.7 112.3h1.1M187.1 114.6h1.1M179.1 121.7h1.1M185.4 112.5h1.1M185.1 112.5h1.1M185.6 119.4h1.1M174.0 115.0h1.1M160.8 134.4h1.1M179.0 120.3h1.1M192.6 107.3h1.1M185.1 113.6h1.1M161.0 126.1h1.1M184.6 118.0h1.1M166.8 128.8h1.1M204.6 108.3h1.1M184.0 111.8h1.1M177.9 135.7h1.1M196.4 122.2h1.1M177.6 123.8h1.1M194.1 123.7h1.1M186.5 121.6h1.1M172.2 122.9h1.1M192.2 116.7h1.1M180.8 145.5h1.1M202.2 120.3h1.1M189.4 126.7h1.1M173.3 121.2h1.1M168.8 132.3h1.1M209.4 128.5h1.1M201.3 115.6h1.1M176.1 133.2h1.1M206.2 120.8h1.1M189.0 123.3h1.1M188.4 132.1h1.1M185.0 121.4h1.1M184.1 124.2h1.1M197.5 107.8h1.1M195.8 138.2h1.1M167.5 130.2h1.1M206.7 110.1h1.1M198.9 125.4h1.1M172.3 120.7h1.1M181.5 120.9h1.1M173.2 117.7h1.1M185.7 119.2h1.1M187.8 114.5h1.1M189.4 122.1h1.1M178.6 121.1h1.1M174.9 118.5h1.1M192.7 113.0h1.1M183.7 118.8h1.1M206.2 104.7h1.1M180.2 130.0h1.1M195.4 120.5h1.1M186.1 120.1h1.1M173.2 113.9h1.1M200.7 116.6h1.1M181.9 109.1h1.1M176.7 124.8h1.1M182.0 121.1h1.1M193.4 110.0h1.1M169.8 118.8h1.1M196.7 107.5h1.1M199.2 131.3h1.1M181.3 118.6h1.1M198.2 111.2h1.1M206.2 118.1h1.1M192.6 119.5h1.1M190.5 126.3h1.1M199.6 101.3h1.1M196.5 104.0h1.1M187.2 148.4h1.1M182.8 119.9h1.1M181.9 118.1h1.1M181.5 122.4h1.1M173.3 133.7h1.1M190.2 106.1h1.1M186.9 120.9h1.1M186.0 118.5h1.1M201.8 117.5h1.1M179.9 123.2h1.1M182.7 115.5h1.1M184.9 111.5h1.1M172.2 103.2h1.1M187.4 127.0h1.1M187.8 104.6h1.1M183.6 116.2h1.1M204.4 125.2h1.1M176.0 119.7h1.1M189.3 122.8h1.1M169.8 124.4h1.1M186.3 125.0h1.1M178.0 122.8h1.1M197.2 108.9h1.1M197.4 125.7h1.1M189.4 114.8h1.1M199.3 100.5h1.1M198.7 109.9h1.1M194.3 119.8h1.1M174.2 114.2h1.1M173.0 131.9h1.1M187.4 125.0h1.1M188.8 136.6h1.1M176.3 117.5h1.1M184.4 125.5h1.1M162.4 114.7h1.1M198.9 109.0h1.1M173.8 125.4h1.1M179.6 125.4h1.1M190.7 116.1h1.1M168.1 126.3h1.1M192.4 110.3h1.1M193.2 111.4h1.1M182.9 123.0h1.1M176.0 128.5h1.1M182.4 126.2h1.1M169.5 135.4h1.1M203.4 121.4h1.1M179.4 105.6h1.1M175.7 118.9h1.1M175.2 122.3h1.1M188.8 111.7h1.1M204.1 119.7h1.1M174.6 130.8h1.1M178.8 121.2h1.1M167.4 128.5h1.1M196.4 125.3h1.1M185.5 115.9h1.1M207.2 106.0h1.1M187.0 126.5h1.1M182.2 124.8h1.1M182.7 133.1h1.1M195.1 117.8h1.1M170.9 132.5h1.1M190.9 111.6h1.1M184.4 111.1h1.1M179.9 121.6h1.1M166.7 103.9h1.1M197.4 117.1h1.1M207.6 117.4h1.1M180.8 121.9h1.1M189.8 115.0h1.1M206.8 118.9h1.1M178.6 121.9h1.1M185.9 127.6h1.1M180.1 141.2h1.1M186.1 125.3h1.1M187.5 126.5h1.1M182.5 124.9h1.1M178.3 124.6h1.1M169.7 128.9h1.1M171.4 126.2h1.1M178.7 131.9h1.1M186.2 104.2h1.1M178.9 119.7h1.1M178.6 128.1h1.1M189.0 109.8h1.1M190.5 115.7h1.1M174.9 117.7h1.1M180.1 125.5h1.1M194.9 122.4h1.1M193.9 128.2h1.1M178.2 126.9h1.1M185.1 112.7h1.1M185.7 121.2h1.1M198.6 118.0h1.1M181.0 133.8h1.1M186.9 99.1h1.1M190.8 119.9h1.1M168.4 110.6h1.1M198.5 119.4h1.1M196.0 118.1h1.1M173.1 129.3h1.1M208.7 116.1h1.1M174.5 127.6h1.1M173.3 118.9h1.1M183.0 123.4h1.1M197.2 124.3h1.1M190.7 115.5h1.1M184.2 119.9h1.1M195.1 103.7h1.1M193.3 125.8h1.1M197.9 108.7h1.1M211.8 100.1h1.1M185.6 115.0h1.1M155.4 125.4h1.1M179.5 119.6h1.1M178.3 133.8h1.1M188.8 124.6h1.1M191.0 129.2h1.1M177.4 136.1h1.1M170.0 118.2h1.1M184.0 124.0h1.1M188.2 131.2h1.1M165.8 148.8h1.1M190.4 104.1h1.1M180.5 108.6h1.1M186.6 122.7h1.1M187.0 115.3h1.1M171.0 116.9h1.1M185.9 122.2h1.1M193.3 108.3h1.1M188.6 97.2h1.1M189.9 116.8h1.1M182.6 121.5h1.1M178.6 127.9h1.1M202.2 119.6h1.1M191.2 118.0h1.1M179.8 119.5h1.1M159.9 124.9h1.1M170.3 111.3h1.1M163.2 125.4h1.1M201.6 120.4h1.1M189.3 123.0h1.1M184.3 137.9h1.1M181.6 119.4h1.1M206.4 93.2h1.1M200.8 119.3h1.1M174.4 133.4h1.1M179.7 111.2h1.1M166.5 113.4h1.1M167.3 128.8h1.1M189.4 123.5h1.1M206.9 99.0h1.1M200.5 108.9h1.1M182.9 113.2h1.1M177.0 112.3h1.1M182.7 108.5h1.1M196.6 115.0h1.1M168.2 123.7h1.1M162.8 123.5h1.1M196.2 90.6h1.1M194.0 130.6h1.1M199.0 104.2h1.1M187.1 117.0h1.1M196.9 103.4h1.1M179.8 125.0h1.1M185.2 105.6h1.1M202.0 112.1h1.1M195.3 112.6h1.1M183.3 128.2h1.1M190.9 106.6h1.1M175.7 117.7h1.1M169.0 124.5h1.1M197.9 131.9h1.1M195.0 101.3h1.1M195.2 117.0h1.1M169.3 120.6h1.1M195.5 117.0h1.1M194.6 120.5h1.1M180.6 122.4h1.1M159.2 133.5h1.1M196.9 116.1h1.1M192.6 110.3h1.1M189.7 115.0h1.1M160.7 115.6h1.1M167.8 124.0h1.1M193.3 108.3h1.1M192.8 113.2h1.1M192.9 122.0h1.1M183.7 123.1h1.1M190.9 120.6h1.1M183.0 129.9h1.1M173.5 103.1h1.1M177.1 126.6h1.1M187.7 117.6h1.1M180.2 120.5h1.1M190.8 104.7h1.1M194.7 119.5h1.1M180.2 131.6h1.1M208.4 117.4h1.1M172.6 124.1h1.1M192.1 121.5h1.1M199.9 120.4h1.1M205.1 126.0h1.1M165.3 139.2h1.1M196.3 115.0h1.1M198.6 113.6h1.1M201.2 113.0h1.1M161.7 132.0h1.1M176.0 118.8h1.1M186.6 125.2h1.1M177.8 116.2h1.1M175.4 162.5h1.1M197.7 148.2h1.1M188.0 162.0h1.1M193.0 168.3h1.1M191.2 169.9h1.1M187.6 167.5h1.1M195.1 167.4h1.1M168.0 163.2h1.1M177.4 161.7h1.1M194.5 170.7h1.1M175.1 169.7h1.1M175.9 159.4h1.1M197.1 164.2h1.1M201.5 165.7h1.1M177.0 171.3h1.1M173.4 167.4h1.1M188.0 158.4h1.1M186.3 166.3h1.1M178.3 178.9h1.1M189.5 163.4h1.1M187.4 157.4h1.1M184.1 166.4h1.1M213.2 145.9h1.1M198.3 161.7h1.1M191.1 159.3h1.1M196.0 168.2h1.1M216.2 155.9h1.1M197.0 168.7h1.1M179.0 183.6h1.1M185.7 161.4h1.1M181.7 157.5h1.1M177.0 169.3h1.1M185.3 162.6h1.1M185.6 164.4h1.1M180.7 159.7h1.1M178.1 169.7h1.1M192.0 162.1h1.1M160.1 152.6h1.1M191.4 159.8h1.1M183.3 166.5h1.1M188.0 172.1h1.1M154.5 166.9h1.1M199.9 152.9h1.1M165.2 178.0h1.1M171.5 162.1h1.1M190.0 162.9h1.1M176.6 169.4h1.1M179.4 170.8h1.1M157.2 170.9h1.1M175.3 157.0h1.1M187.0 171.0h1.1M189.4 158.7h1.1M178.2 161.0h1.1M189.1 178.5h1.1M189.3 169.3h1.1M172.8 158.1h1.1M173.1 162.7h1.1M204.3 156.2h1.1M171.4 161.0h1.1M192.7 145.8h1.1M185.0 169.8h1.1M200.8 165.4h1.1M175.8 167.8h1.1M187.6 159.4h1.1M186.7 164.6h1.1M181.3 169.5h1.1M184.0 155.2h1.1M173.2 163.8h1.1M180.5 160.0h1.1M179.4 170.5h1.1M191.7 163.7h1.1M178.9 154.5h1.1M165.5 163.6h1.1M181.9 178.4h1.1M179.5 157.0h1.1M172.6 167.9h1.1M196.4 155.2h1.1M189.7 172.1h1.1M192.0 160.9h1.1M173.0 163.0h1.1M175.7 156.4h1.1M193.5 159.1h1.1M167.9 174.6h1.1M188.1 167.9h1.1M180.9 153.8h1.1M180.0 177.2h1.1M183.1 161.9h1.1M168.2 159.3h1.1M185.4 164.2h1.1M167.5 163.0h1.1M166.9 163.5h1.1M197.2 155.0h1.1M174.4 165.4h1.1M157.5 166.7h1.1M190.2 148.2h1.1M174.8 170.2h1.1M141.4 170.8h1.1M184.3 173.1h1.1M194.2 165.1h1.1M187.8 167.5h1.1M202.5 160.1h1.1M183.7 174.0h1.1M188.7 159.7h1.1M169.1 159.6h1.1M185.1 166.0h1.1M194.5 138.9h1.1M187.6 159.6h1.1M184.8 165.1h1.1M159.2 166.9h1.1M180.8 174.5h1.1M169.3 173.1h1.1M191.6 162.4h1.1M173.3 163.2h1.1M188.9 171.0h1.1M169.8 161.9h1.1M203.2 155.1h1.1M170.7 173.1h1.1M185.3 168.0h1.1M216.6 171.1h1.1M184.6 161.6h1.1M168.8 152.5h1.1M190.9 167.0h1.1M196.4 170.3h1.1M192.2 160.0h1.1M163.2 181.6h1.1M188.6 176.6h1.1M157.0 165.4h1.1M203.3 154.5h1.1M180.9 154.3h1.1M178.4 169.4h1.1M191.7 167.2h1.1M189.3 166.9h1.1M166.6 158.3h1.1M199.6 153.2h1.1M176.9 153.9h1.1M159.2 157.2h1.1M195.9 149.5h1.1M196.9 147.4h1.1M196.6 158.7h1.1M189.7 165.4h1.1M173.6 171.3h1.1M193.3 160.9h1.1M202.5 153.2h1.1M191.9 161.3h1.1M202.0 163.2h1.1M173.1 164.0h1.1M194.4 161.1h1.1M192.7 158.7h1.1M164.5 164.5h1.1M164.0 169.1h1.1M172.1 157.7h1.1M185.6 171.5h1.1M184.7 150.8h1.1M180.9 168.0h1.1M179.1 153.9h1.1M184.3 175.5h1.1M185.3 170.1h1.1M187.7 156.0h1.1M187.4 159.0h1.1M179.7 155.6h1.1M185.5 162.6h1.1M178.2 168.3h1.1M196.9 180.5h1.1M174.1 155.2h1.1M203.9 168.0h1.1M181.2 159.6h1.1M186.3 165.1h1.1M175.6 172.7h1.1M179.7 169.0h1.1M185.4 166.5h1.1M182.4 162.3h1.1M175.5 165.7h1.1M169.6 168.6h1.1M185.5 172.6h1.1M181.5 152.4h1.1M188.0 158.5h1.1M194.5 150.7h1.1M177.1 157.6h1.1M158.1 164.0h1.1M183.2 172.5h1.1M165.7 185.5h1.1M170.5 177.9h1.1M192.1 151.8h1.1M189.3 162.6h1.1M172.9 157.4h1.1M176.2 169.1h1.1M184.1 173.6h1.1M163.6 173.6h1.1M189.9 168.8h1.1M178.3 163.8h1.1M199.9 143.5h1.1M166.5 152.3h1.1M194.0 160.0h1.1M175.9 170.2h1.1M196.9 170.1h1.1M170.7 164.3h1.1M191.2 162.1h1.1M178.1 167.1h1.1M175.3 174.3h1.1M180.8 163.8h1.1M186.0 154.2h1.1M189.5 170.6h1.1M201.7 162.0h1.1M192.9 164.1h1.1M149.7 162.5h1.1M178.0 165.0h1.1M156.2 157.2h1.1M174.2 150.1h1.1M189.4 160.1h1.1M166.4 164.7h1.1M170.2 171.7h1.1M187.2 174.1h1.1M179.3 164.5h1.1M204.5 172.2h1.1M185.2 158.4h1.1M190.3 167.9h1.1M200.3 149.0h1.1M177.1 166.3h1.1M182.0 161.5h1.1M170.8 165.3h1.1M186.8 167.4h1.1M190.9 146.6h1.1M198.7 160.4h1.1M180.6 157.9h1.1M174.7 166.9h1.1M174.6 169.1h1.1M165.8 165.4h1.1M183.3 160.7h1.1M196.1 151.0h1.1M156.4 175.2h1.1M156.2 165.5h1.1M199.8 162.8h1.1M161.2 158.2h1.1M189.2 173.0h1.1M166.1 160.1h1.1M194.0 170.0h1.1M190.9 158.1h1.1M185.7 167.3h1.1M192.0 160.2h1.1M184.6 168.7h1.1M189.2 162.1h1.1M206.4 167.6h1.1M196.8 165.4h1.1M176.5 170.9h1.1M176.8 178.7h1.1M178.6 159.4h1.1M182.7 174.2h1.1M183.7 164.1h1.1M172.8 154.7h1.1M191.3 165.3h1.1M182.8 162.2h1.1M190.3 175.2h1.1M181.9 160.1h1.1M190.0 162.2h1.1M169.4 169.2h1.1M197.3 144.7h1.1M187.8 166.5h1.1M186.0 155.0h1.1M192.7 172.3h1.1M198.6 172.8h1.1M191.3 161.4h1.1M182.4 151.3h1.1M181.1 165.7h1.1M164.1 170.2h1.1M186.7 168.5h1.1M178.6 162.5h1.1M176.8 155.9h1.1M210.4 155.3h1.1M159.5 162.7h1.1M187.0 176.8h1.1M195.5 154.8h1.1M192.7 155.9h1.1M197.1 159.6h1.1M165.7 158.5h1.1M170.9 163.4h1.1M189.8 160.8h1.1M178.5 161.1h1.1M202.2 156.6h1.1M188.0 172.3h1.1M186.0 166.4h1.1M185.4 152.5h1.1M178.9 161.4h1.1M185.8 168.9h1.1M173.8 161.0h1.1M182.7 164.5h1.1M177.3 165.0h1.1M187.0 166.9h1.1M166.2 166.8h1.1M165.4 167.3h1.1M186.6 155.9h1.1M186.3 165.7h1.1M169.9 159.8h1.1M183.8 177.3h1.1M170.8 166.8h1.1M206.2 155.7h1.1M166.4 174.4h1.1M202.7 157.8h1.1M173.6 166.9h1.1M187.8 162.0h1.1M178.5 159.2h1.1M176.7 158.1h1.1M192.5 155.6h1.1M194.7 169.6h1.1M178.4 160.0h1.1M171.7 163.5h1.1M206.1 154.0h1.1M200.7 164.5h1.1M188.6 178.0h1.1M177.7 157.8h1.1M187.5 166.9h1.1M184.2 164.4h1.1M196.3 157.8h1.1M172.8 170.5h1.1M180.7 154.2h1.1M175.6 172.3h1.1M198.6 161.3h1.1M201.9 150.7h1.1M185.1 175.8h1.1M191.0 168.4h1.1M201.6 168.0h1.1M176.7 153.9h1.1M171.7 164.6h1.1M194.1 156.6h1.1M190.2 166.8h1.1M183.3 174.4h1.1M196.2 145.1h1.1M185.8 163.1h1.1M162.2 168.3h1.1M189.0 170.1h1.1M182.3 163.6h1.1M202.3 148.4h1.1M182.5 162.3h1.1M178.6 156.7h1.1M186.6 156.6h1.1M186.0 163.3h1.1M165.8 164.5h1.1M185.0 165.4h1.1M176.2 153.5h1.1M203.9 176.6h1.1M213.4 165.6h1.1M171.5 172.5h1.1M169.3 157.1h1.1M169.0 150.3h1.1M173.7 159.4h1.1M174.6 164.1h1.1M188.1 180.1h1.1M198.3 170.0h1.1M166.9 163.9h1.1M167.6 177.4h1.1M164.1 178.5h1.1M195.9 160.4h1.1M200.9 168.6h1.1M165.9 170.9h1.1M162.9 163.9h1.1M182.3 154.6h1.1M195.5 159.4h1.1M196.8 167.9h1.1M182.6 153.1h1.1M187.8 149.7h1.1M188.0 166.8h1.1M171.3 145.3h1.1M208.8 171.3h1.1M182.2 160.5h1.1M171.7 172.6h1.1M181.4 178.9h1.1M162.3 157.7h1.1M181.2 155.9h1.1M200.3 176.9h1.1M167.9 165.5h1.1M195.9 159.3h1.1M207.8 158.9h1.1M189.6 170.4h1.1M172.3 177.1h1.1M173.4 167.2h1.1M178.6 162.3h1.1M168.2 167.4h1.1M169.2 169.8h1.1M182.7 174.2h1.1M181.3 165.3h1.1M193.7 175.3h1.1M167.5 161.1h1.1M205.9 161.8h1.1M198.9 173.4h1.1M196.0 170.5h1.1M176.2 168.2h1.1M201.5 151.8h1.1M177.7 159.5h1.1M203.8 156.9h1.1M196.1 162.7h1.1M172.2 164.6h1.1M174.9 154.3h1.1M203.3 152.4h1.1M195.7 164.4h1.1M183.0 170.4h1.1M182.7 152.7h1.1M184.7 160.4h1.1M170.8 153.7h1.1M179.7 160.1h1.1M182.5 192.0h1.1M178.3 165.5h1.1M187.8 159.7h1.1M170.8 162.3h1.1M189.1 152.5h1.1M180.7 149.6h1.1M191.9 161.0h1.1M192.9 158.9h1.1M200.5 170.8h1.1M187.1 149.6h1.1M192.2 164.7h1.1M183.7 174.2h1.1M185.8 147.4h1.1M174.0 171.4h1.1M177.0 152.5h1.1M192.8 165.2h1.1M185.4 174.8h1.1M188.3 162.3h1.1M171.4 169.1h1.1M197.6 154.3h1.1M177.0 167.6h1.1M189.9 170.9h1.1M182.5 162.4h1.1M193.7 159.8h1.1M179.4 167.8h1.1M173.1 172.9h1.1M157.8 157.5h1.1M179.7 165.1h1.1M167.9 162.3h1.1M190.3 165.7h1.1M201.9 166.9h1.1M157.9 172.9h1.1M170.7 177.3h1.1M184.7 155.4h1.1M196.6 156.8h1.1M184.7 155.4h1.1M187.0 163.1h1.1M189.2 162.8h1.1M189.4 160.4h1.1M199.8 149.6h1.1M190.1 161.2h1.1M167.8 164.3h1.1M178.8 169.7h1.1M185.0 161.1h1.1M176.0 174.9h1.1M180.5 166.2h1.1M173.3 151.6h1.1M174.6 164.6h1.1M188.3 151.0h1.1M180.5 172.1h1.1M173.2 177.7h1.1M174.7 165.7h1.1M184.4 166.9h1.1M204.8 146.4h1.1M181.6 146.2h1.1M199.3 155.0h1.1M188.3 160.3h1.1M155.1 159.2h1.1M187.7 163.2h1.1M173.8 168.7h1.1M168.6 172.7h1.1M173.6 178.6h1.1M205.5 164.1h1.1M164.0 165.9h1.1M176.1 166.4h1.1M197.8 164.6h1.1M188.8 153.9h1.1M165.8 178.9h1.1M183.6 170.8h1.1M176.6 163.7h1.1M179.5 159.6h1.1M199.4 189.6h1.1M178.0 171.8h1.1M181.2 171.7h1.1M203.7 172.5h1.1M163.5 176.8h1.1M179.2 166.5h1.1M190.0 167.5h1.1M166.7 160.9h1.1M177.1 171.0h1.1M164.7 156.4h1.1M185.7 166.4h1.1M176.9 169.8h1.1M189.2 149.7h1.1M198.8 174.8h1.1M181.3 155.1h1.1M180.7 172.7h1.1M185.1 159.0h1.1M184.4 165.9h1.1M167.6 162.7h1.1M200.5 178.9h1.1M187.8 170.7h1.1M195.9 174.7h1.1M168.7 173.9h1.1M194.7 166.2h1.1M208.0 158.3h1.1M189.8 160.1h1.1M167.3 172.9h1.1M183.8 164.9h1.1M182.1 162.9h1.1M182.9 152.9h1.1M179.7 162.3h1.1M190.1 166.8h1.1M176.7 161.8h1.1M186.5 165.7h1.1M174.7 165.0h1.1M182.2 155.9h1.1M192.9 154.1h1.1M175.9 159.9h1.1M190.3 159.6h1.1M172.2 164.7h1.1M180.9 173.4h1.1M178.1 156.6h1.1M193.6 144.8h1.1M175.5 171.4h1.1M196.4 156.7h1.1M165.7 167.6h1.1M186.3 183.3h1.1M196.6 171.9h1.1M192.4 166.1h1.1M173.1 174.1h1.1M169.0 168.6h1.1M195.2 168.3h1.1M167.1 163.3h1.1M188.4 156.8h1.1M176.0 162.1h1.1M186.1 175.7h1.1M213.2 168.2h1.1M200.0 154.6h1.1M195.2 169.9h1.1M166.6 167.1h1.1M188.9 170.9h1.1M183.0 161.4h1.1M183.8 171.4h1.1M198.5 158.9h1.1M162.3 167.2h1.1M186.7 162.8h1.1M184.8 164.8h1.1M173.1 162.0h1.1M200.5 148.4h1.1M171.6 180.6h1.1M182.6 161.0h1.1M180.3 150.2h1.1M152.8 154.0h1.1M160.7 147.6h1.1M170.4 162.5h1.1M195.0 171.6h1.1M190.9 148.9h1.1M189.3 159.7h1.1M182.2 149.6h1.1M159.4 179.1h1.1M186.3 166.0h1.1M177.6 168.0h1.1M199.4 170.4h1.1M202.1 172.0h1.1M211.3 164.7h1.1M190.2 157.5h1.1M189.9 151.6h1.1M168.8 159.5h1.1M180.4 150.7h1.1M172.1 181.4h1.1M193.1 159.8h1.1M169.2 168.8h1.1M180.9 166.2h1.1M177.4 181.7h1.1M176.4 161.3h1.1M190.7 171.4h1.1M177.0 168.1h1.1M185.3 162.2h1.1M167.4 152.9h1.1M201.2 166.5h1.1M173.9 160.5h1.1M193.9 157.5h1.1M208.5 159.0h1.1M154.5 172.4h1.1M173.6 175.6h1.1M179.2 159.7h1.1M197.0 161.6h1.1M177.8 167.7h1.1M187.5 163.1h1.1M175.7 171.4h1.1M189.1 160.4h1.1M171.1 176.9h1.1M191.4 156.1h1.1M144.9 162.8h1.1M160.6 169.7h1.1M206.7 167.1h1.1M183.9 159.7h1.1M171.1 162.2h1.1M208.2 154.5h1.1M195.6 162.0h1.1M195.9 159.2h1.1M178.6 167.7h1.1M186.8 149.3h1.1M191.9 173.7h1.1M164.5 173.7h1.1M188.2 155.8h1.1M183.5 174.9h1.1M199.0 163.4h1.1M201.3 170.9h1.1M173.0 157.3h1.1M179.1 178.4h1.1M185.3 163.8h1.1M186.5 146.7h1.1M179.6 171.0h1.1M181.0 162.2h1.1M188.1 154.6h1.1M187.5 161.1h1.1M192.8 145.9h1.1M186.9 167.7h1.1M172.0 165.3h1.1M161.5 167.7h1.1M195.3 172.1h1.1M179.0 165.4h1.1M177.4 160.3h1.1M177.6 157.9h1.1M164.1 168.6h1.1M180.4 173.3h1.1M150.9 168.0h1.1M176.0 157.6h1.1M174.1 173.8h1.1M204.8 158.7h1.1M188.1 162.5h1.1M184.5 180.3h1.1M182.4 154.5h1.1M191.9 163.3h1.1M170.3 153.3h1.1M179.5 162.6h1.1M179.8 169.6h1.1M214.6 164.6h1.1M181.2 154.4h1.1M161.2 176.6h1.1M193.9 167.4h1.1M213.3 154.9h1.1M176.4 185.5h1.1M224.2 153.0h1.1M180.3 157.7h1.1M195.6 164.1h1.1M172.4 152.0h1.1M182.8 176.6h1.1M170.2 175.4h1.1M169.5 164.5h1.1M158.6 175.5h1.1M197.5 164.5h1.1M173.0 182.2h1.1M186.0 158.3h1.1M184.2 153.4h1.1M171.0 151.0h1.1M182.8 161.7h1.1M178.6 152.7h1.1M176.6 164.4h1.1M184.2 167.0h1.1M182.5 160.6h1.1M168.8 160.3h1.1M169.7 177.1h1.1M172.3 165.3h1.1M184.7 165.5h1.1M201.2 166.8h1.1M197.7 149.7h1.1M184.7 156.2h1.1M199.1 179.7h1.1M183.9 162.5h1.1M193.9 152.8h1.1M183.8 161.8h1.1M186.3 158.6h1.1M176.9 155.9h1.1M181.9 161.1h1.1M205.4 157.9h1.1M168.4 167.8h1.1M183.9 168.1h1.1M172.2 153.1h1.1M191.3 149.9h1.1M206.1 164.2h1.1M178.1 161.8h1.1M152.0 182.1h1.1M190.7 164.4h1.1M187.3 151.6h1.1M163.6 173.5h1.1M177.8 157.4h1.1M182.5 166.3h1.1M157.5 180.7h1.1M195.0 177.7h1.1M187.9 162.2h1.1M187.0 168.6h1.1M170.6 169.8h1.1M175.8 172.3h1.1M170.0 147.1h1.1M187.7 159.7h1.1M171.5 169.5h1.1M201.2 162.9h1.1M185.7 157.3h1.1M158.2 177.3h1.1M205.1 166.9h1.1M184.7 164.1h1.1M175.6 164.2h1.1M183.2 161.2h1.1M161.0 171.1h1.1M187.3 172.3h1.1M156.1 183.2h1.1M169.4 163.9h1.1M197.1 152.9h1.1M196.3 154.2h1.1M180.5 172.6h1.1M171.5 168.9h1.1M194.5 163.4h1.1M183.0 167.9h1.1M186.0 166.3h1.1M189.9 161.2h1.1M167.6 159.9h1.1M191.0 157.0h1.1M157.4 171.9h1.1M201.0 162.4h1.1M163.0 166.5h1.1M174.2 163.1h1.1M177.3 176.5h1.1M190.5 158.3h1.1M192.0 163.4h1.1M186.3 160.6h1.1M187.4 156.0h1.1M185.2 151.4h1.1M180.6 160.4h1.1M157.9 164.2h1.1M156.4 177.9h1.1M152.5 163.1h1.1M181.2 161.3h1.1M181.1 169.8h1.1M180.7 163.8h1.1M186.3 167.1h1.1M181.4 171.1h1.1M167.2 155.1h1.1M163.6 166.0h1.1M157.7 163.2h1.1M199.9 170.2h1.1M193.3 160.4h1.1M167.1 172.2h1.1M182.6 177.7h1.1M187.1 160.1h1.1M201.9 159.6h1.1M176.0 169.2h1.1M184.1 161.6h1.1M199.0 169.7h1.1M163.1 175.9h1.1M175.6 174.0h1.1M182.1 164.7h1.1M173.1 164.0h1.1M207.3 154.7h1.1M192.3 158.7h1.1M181.6 151.4h1.1M171.6 170.0h1.1M194.6 167.4h1.1M190.1 162.1h1.1M175.2 162.2h1.1" stroke="#1a1a1a" stroke-width="1.1" fill="none"/>
<path d="M99.2 184.5h1.1M94.6 173.0h1.1M94.3 183.4h1.1M84.0 181.7h1.1M89.3 180.3h1.1M76.2 173.6h1.1M91.0 172.9h1.1M102.9 164.2h1.1M85.6 176.2h1.1M76.8 167.4h1.1M99.0 175.0h1.1M92.7 169.5h1.1M90.2 171.0h1.1M81.5 179.3h1.1M89.8 173.0h1.1M98.9 171.2h1.1M73.7 177.0h1.1M83.1 172.5h1.1M74.9 188.9h1.1M79.9 183.9h1.1M72.8 185.1h1.1M86.6 172.7h1.1M76.2 178.7h1.1M93.2 171.8h1.1M97.1 178.9h1.1M85.1 169.9h1.1M74.3 199.6h1.1M89.5 182.1h1.1M88.7 172.0h1.1M95.2 177.2h1.1M71.3 177.3h1.1M79.7 168.5h1.1M77.0 174.3h1.1M82.0 177.6h1.1M99.3 164.8h1.1M81.6 177.1h1.1M91.1 174.7h1.1M90.5 156.8h1.1M87.7 180.7h1.1M84.3 167.5h1.1M89.4 169.8h1.1M89.9 171.4h1.1M75.3 176.8h1.1M86.2 166.4h1.1M99.3 159.2h1.1M76.9 184.9h1.1M101.1 170.9h1.1M94.3 176.0h1.1M81.2 173.4h1.1M106.0 155.8h1.1M94.2 163.9h1.1M81.9 184.8h1.1M83.5 163.0h1.1M101.2 176.3h1.1M87.3 172.9h1.1M94.1 165.2h1.1M91.8 176.2h1.1M101.2 174.6h1.1M105.4 165.6h1.1M89.1 184.2h1.1M93.4 173.2h1.1M91.7 183.6h1.1M97.1 179.5h1.1M79.8 181.9h1.1M91.5 185.5h1.1M89.9 176.2h1.1M99.5 168.1h1.1M97.7 161.2h1.1M77.9 181.9h1.1M86.9 183.6h1.1M91.6 162.7h1.1M75.5 191.4h1.1M88.2 179.1h1.1M91.2 176.1h1.1M93.6 153.8h1.1M96.8 168.6h1.1M90.6 179.6h1.1M84.6 172.7h1.1M89.1 176.2h1.1M95.3 151.0h1.1M89.8 180.5h1.1M85.6 172.8h1.1M97.7 176.0h1.1M82.5 165.4h1.1M92.0 178.9h1.1M80.0 180.7h1.1M94.1 178.2h1.1M83.3 172.4h1.1M99.1 162.6h1.1M105.9 180.9h1.1M87.5 169.9h1.1M94.2 165.7h1.1M86.8 175.0h1.1M96.4 161.3h1.1M95.7 180.1h1.1M103.2 178.7h1.1M76.5 179.5h1.1M87.2 162.7h1.1M80.4 192.0h1.1M77.0 194.1h1.1M91.5 180.4h1.1M87.5 186.3h1.1M89.0 168.4h1.1M110.7 157.2h1.1M77.9 172.8h1.1M79.7 171.2h1.1M96.8 177.6h1.1M92.8 167.1h1.1M98.5 186.9h1.1M89.4 175.8h1.1M94.8 165.7h1.1M98.9 174.4h1.1M88.8 190.5h1.1M92.2 177.1h1.1M86.4 167.5h1.1M82.9 183.4h1.1M98.9 179.2h1.1M81.3 177.5h1.1M96.7 163.2h1.1M96.8 177.8h1.1M92.4 174.1h1.1M81.2 172.5h1.1M88.4 172.9h1.1M69.9 184.3h1.1M81.9 183.5h1.1M94.7 172.0h1.1M76.3 195.0h1.1M101.5 171.6h1.1M68.9 178.4h1.1M99.5 170.7h1.1M86.9 184.6h1.1M99.9 170.8h1.1M96.3 178.3h1.1M74.9 182.1h1.1M98.5 160.3h1.1M107.8 168.6h1.1M86.1 169.0h1.1M79.9 164.9h1.1M93.7 180.4h1.1M79.3 177.2h1.1M99.7 164.7h1.1M80.5 170.7h1.1M85.2 167.6h1.1M79.2 173.7h1.1M83.9 176.6h1.1M80.9 184.9h1.1M93.2 153.3h1.1M92.6 178.9h1.1M95.0 161.1h1.1M86.9 168.4h1.1M87.4 182.4h1.1M87.7 175.9h1.1M79.8 170.1h1.1M98.5 183.4h1.1M84.2 172.2h1.1M89.3 177.4h1.1M79.3 184.8h1.1M89.3 186.9h1.1M104.2 160.0h1.1M89.0 183.9h1.1M78.5 177.7h1.1M98.5 177.4h1.1M100.7 160.1h1.1M76.4 182.4h1.1M96.7 185.2h1.1M86.5 180.1h1.1M75.5 187.0h1.1M106.6 180.3h1.1M92.2 176.0h1.1M88.4 169.3h1.1M87.1 183.1h1.1M90.4 164.7h1.1M90.6 183.6h1.1M94.5 181.2h1.1M78.7 178.9h1.1M77.5 179.4h1.1M103.8 165.4h1.1M86.5 177.7h1.1M89.7 166.9h1.1M93.0 177.1h1.1M78.8 166.7h1.1M84.7 175.4h1.1M95.1 167.5h1.1M87.2 174.7h1.1M90.9 176.6h1.1M86.3 167.6h1.1M104.0 168.7h1.1M96.4 168.3h1.1M91.9 168.0h1.1M80.4 171.0h1.1M73.7 177.7h1.1M101.0 169.1h1.1M95.9 162.2h1.1M90.0 175.3h1.1M100.2 175.6h1.1M102.2 173.8h1.1M104.8 176.1h1.1M98.2 166.0h1.1M82.5 171.7h1.1M108.8 168.5h1.1M80.9 184.4h1.1M103.3 173.7h1.1M95.5 170.6h1.1M103.7 173.9h1.1M111.4 165.0h1.1M107.3 167.2h1.1M82.6 184.7h1.1M77.3 188.0h1.1M99.3 169.4h1.1M82.7 182.3h1.1M94.9 179.2h1.1M96.6 165.4h1.1M83.0 194.5h1.1M71.5 188.4h1.1M97.3 177.2h1.1M91.0 173.2h1.1M87.8 174.5h1.1M99.5 184.1h1.1M82.0 178.5h1.1M72.2 178.2h1.1M86.6 171.5h1.1M80.9 179.3h1.1M84.7 196.7h1.1M96.4 171.5h1.1M94.2 179.2h1.1M90.7 166.0h1.1M83.4 182.8h1.1M87.7 182.1h1.1M89.2 190.3h1.1M80.2 176.7h1.1M95.2 175.7h1.1M85.1 181.1h1.1M90.1 166.2h1.1M94.0 171.5h1.1M108.3 158.3h1.1M69.1 172.0h1.1M101.4 170.8h1.1M92.4 177.4h1.1M89.1 171.9h1.1M72.5 177.4h1.1M92.8 184.8h1.1M98.8 170.1h1.1M94.3 179.8h1.1M97.4 180.6h1.1M86.3 173.4h1.1M104.7 170.0h1.1M89.8 172.9h1.1M70.8 189.3h1.1M84.4 178.5h1.1M73.2 187.9h1.1M66.0 202.7h1.1M86.7 178.4h1.1M102.5 163.8h1.1M90.3 172.2h1.1M81.7 184.0h1.1M78.9 176.1h1.1M99.2 163.4h1.1M92.2 172.6h1.1M89.2 170.8h1.1M90.0 173.8h1.1M88.9 170.6h1.1M106.3 178.6h1.1M101.3 176.9h1.1M94.8 174.8h1.1M81.3 181.1h1.1M104.4 181.6h1.1M86.1 180.5h1.1M100.6 165.8h1.1M80.7 184.6h1.1M91.0 176.5h1.1M96.6 181.3h1.1M78.9 183.3h1.1M115.0 172.6h1.1M100.7 159.1h1.1M89.6 180.8h1.1M94.0 163.4h1.1M101.7 180.6h1.1M66.0 190.8h1.1M93.0 171.9h1.1M94.1 179.2h1.1M96.8 179.8h1.1M76.8 175.9h1.1M87.2 174.1h1.1M83.8 168.1h1.1M102.3 166.3h1.1M93.6 171.1h1.1M89.6 172.3h1.1M102.1 159.7h1.1M84.4 176.0h1.1M84.5 172.9h1.1M76.7 189.6h1.1M111.3 170.7h1.1M92.0 157.3h1.1M98.8 166.9h1.1M95.4 167.1h1.1M94.0 175.7h1.1M89.1 167.6h1.1M88.1 175.0h1.1M85.0 170.1h1.1M94.3 177.2h1.1M105.1 163.8h1.1M95.4 169.2h1.1M92.0 176.3h1.1M84.8 176.8h1.1M79.0 170.5h1.1M107.9 165.7h1.1M96.7 171.9h1.1M91.0 172.7h1.1M91.8 181.5h1.1M85.8 188.1h1.1M86.0 168.9h1.1M95.8 163.8h1.1M93.6 184.7h1.1M94.6 182.9h1.1M86.0 171.8h1.1M87.3 167.2h1.1M74.0 182.0h1.1M86.9 173.1h1.1M76.9 171.9h1.1M99.1 167.9h1.1M78.9 172.9h1.1M91.4 163.7h1.1M108.5 167.9h1.1M85.4 172.7h1.1M85.3 177.9h1.1M95.3 175.9h1.1M94.2 178.2h1.1M80.6 179.3h1.1M95.4 171.0h1.1M106.0 155.5h1.1M95.7 184.8h1.1M91.8 178.8h1.1M77.1 175.7h1.1M93.9 171.8h1.1M82.6 186.5h1.1M82.9 184.3h1.1M109.9 174.3h1.1M88.3 187.4h1.1M98.6 163.6h1.1M104.5 162.8h1.1M88.2 165.6h1.1M97.0 171.4h1.1M109.3 161.0h1.1M100.0 189.2h1.1M86.0 178.7h1.1M70.4 172.9h1.1M88.7 170.3h1.1M104.9 164.1h1.1M94.7 160.8h1.1M79.0 176.2h1.1M81.8 178.2h1.1M87.8 179.3h1.1M93.0 171.1h1.1M85.6 170.9h1.1M96.1 176.5h1.1M91.5 169.1h1.1M86.3 173.6h1.1M85.1 167.2h1.1M89.7 168.5h1.1M92.8 177.9h1.1M89.1 162.1h1.1M107.7 160.4h1.1M99.2 173.5h1.1M90.0 171.7h1.1M76.7 187.2h1.1M90.0 165.5h1.1M78.6 194.5h1.1M82.6 189.6h1.1M99.7 169.2h1.1M90.4 160.0h1.1M85.5 169.7h1.1M79.4 191.1h1.1M94.5 185.4h1.1M86.0 180.3h1.1M101.8 175.9h1.1M109.0 154.9h1.1M92.2 171.5h1.1M83.9 179.5h1.1M82.1 184.5h1.1M84.4 166.6h1.1M93.2 180.1h1.1M85.9 188.9h1.1M87.5 167.3h1.1M75.1 175.2h1.1M102.5 167.9h1.1M98.0 163.1h1.1M91.3 154.2h1.1M89.9 181.5h1.1M96.3 171.2h1.1M87.9 172.5h1.1M95.9 187.6h1.1M88.5 177.1h1.1M76.2 179.3h1.1M78.3 184.7h1.1M94.0 163.0h1.1M86.2 171.5h1.1M94.5 174.4h1.1M97.9 164.1h1.1M73.5 184.0h1.1M90.6 188.1h1.1M96.0 177.2h1.1M97.8 175.3h1.1M89.7 179.4h1.1M102.3 169.2h1.1M98.7 180.0h1.1M79.9 182.5h1.1M90.0 190.1h1.1M94.5 163.4h1.1M94.2 169.4h1.1M68.3 180.4h1.1M101.8 162.7h1.1M98.5 172.4h1.1M109.0 171.9h1.1M84.9 173.3h1.1M88.3 176.1h1.1M79.4 180.1h1.1M111.0 152.3h1.1M84.7 169.2h1.1M105.6 163.1h1.1M78.2 169.7h1.1M92.9 173.4h1.1M75.9 185.9h1.1M84.9 173.3h1.1M95.9 161.9h1.1M74.1 175.8h1.1M108.2 176.0h1.1M88.7 164.7h1.1M87.8 189.4h1.1M88.9 180.6h1.1M85.4 175.4h1.1M85.9 168.4h1.1M90.3 183.1h1.1M90.4 188.7h1.1M84.5 171.4h1.1M80.5 179.7h1.1M83.5 188.5h1.1M91.9 176.1h1.1M107.0 178.0h1.1M74.9 181.9h1.1M93.2 176.8h1.1M80.1 172.2h1.1M90.5 191.7h1.1M95.8 164.2h1.1M77.5 166.4h1.1M104.1 162.7h1.1M83.4 178.8h1.1M102.2 181.1h1.1M87.6 173.9h1.1M84.1 179.3h1.1M98.7 172.9h1.1M95.9 183.2h1.1M96.2 169.4h1.1M94.7 179.7h1.1M83.2 184.3h1.1M88.9 173.2h1.1M91.8 174.0h1.1M99.8 167.4h1.1M79.1 175.7h1.1M95.5 180.5h1.1M69.9 179.1h1.1M101.6 175.4h1.1M85.0 186.5h1.1M74.3 186.3h1.1M87.4 170.5h1.1M100.1 165.0h1.1M79.1 187.2h1.1M84.1 185.5h1.1M85.4 180.7h1.1M84.7 187.1h1.1M92.2 168.5h1.1M84.6 180.9h1.1M78.2 171.1h1.1M99.3 173.8h1.1M84.8 180.1h1.1M93.3 168.8h1.1M86.8 186.8h1.1M82.8 186.1h1.1M63.1 172.6h1.1M108.0 161.0h1.1M82.3 168.8h1.1M97.5 177.7h1.1M100.7 187.0h1.1M90.4 170.2h1.1M91.7 174.0h1.1M107.3 159.2h1.1M83.0 183.2h1.1M79.5 188.3h1.1M87.0 187.8h1.1M75.0 178.4h1.1M104.1 176.8h1.1M94.7 163.4h1.1M83.4 182.2h1.1M83.0 189.8h1.1M90.6 180.2h1.1M99.9 159.3h1.1M62.6 190.4h1.1M93.9 167.9h1.1M81.0 181.4h1.1M105.0 172.5h1.1M76.1 175.0h1.1M90.3 178.4h1.1M79.8 187.8h1.1M84.4 183.8h1.1M105.4 166.6h1.1M104.5 176.0h1.1M89.3 179.3h1.1M86.5 184.6h1.1M76.1 190.3h1.1M94.6 186.0h1.1M83.1 164.5h1.1M95.4 181.2h1.1M89.1 173.3h1.1M79.7 180.5h1.1M86.5 169.5h1.1M83.2 164.7h1.1M101.2 162.9h1.1M105.2 157.3h1.1M91.7 177.5h1.1M78.2 171.9h1.1M96.1 181.8h1.1M86.6 179.7h1.1M83.3 178.0h1.1M87.6 170.8h1.1M78.4 177.4h1.1M92.0 163.9h1.1M87.9 171.9h1.1M93.3 172.3h1.1M88.6 174.4h1.1M78.7 171.9h1.1M81.3 179.4h1.1M85.3 171.1h1.1M86.7 178.7h1.1M100.6 181.9h1.1M93.5 177.2h1.1M77.4 182.0h1.1M85.1 165.2h1.1M73.2 176.3h1.1M78.7 169.7h1.1M91.2 179.8h1.1M69.1 184.8h1.1M92.1 173.7h1.1M89.9 169.7h1.1M89.9 175.6h1.1M92.8 184.2h1.1M84.9 173.1h1.1M80.8 179.2h1.1M85.3 171.8h1.1M89.5 182.4h1.1M87.7 168.1h1.1M75.6 176.7h1.1M87.6 165.2h1.1M86.7 165.8h1.1M91.6 177.4h1.1M97.3 190.3h1.1M92.0 165.0h1.1M79.7 190.7h1.1M96.2 172.0h1.1M88.8 166.6h1.1M92.5 170.6h1.1M93.5 170.1h1.1M82.3 175.1h1.1M96.4 185.7h1.1M89.1 159.7h1.1M96.4 172.9h1.1M94.2 174.2h1.1M75.0 181.8h1.1M96.5 171.0h1.1M105.1 170.2h1.1M100.8 167.6h1.1M94.8 174.5h1.1M79.7 188.6h1.1M91.4 156.9h1.1M95.6 182.6h1.1M77.2 203.6h1.1M98.3 176.4h1.1M81.5 189.8h1.1M73.6 176.0h1.1M84.8 177.9h1.1M99.3 160.8h1.1M85.3 173.6h1.1M97.3 177.0h1.1M103.6 157.5h1.1M104.9 162.0h1.1M82.4 165.0h1.1M88.2 174.9h1.1M79.9 183.4h1.1M81.9 175.3h1.1M92.0 167.3h1.1M102.1 180.9h1.1M87.2 167.0h1.1M95.8 161.6h1.1M80.8 175.3h1.1M95.3 180.5h1.1M106.0 179.6h1.1M97.6 171.6h1.1M97.8 162.7h1.1M92.9 169.0h1.1M92.5 181.6h1.1M90.6 166.8h1.1M87.7 188.5h1.1M81.8 192.9h1.1M96.5 170.2h1.1M93.1 177.7h1.1M96.8 175.7h1.1M81.8 194.0h1.1M83.5 171.2h1.1M90.3 184.3h1.1M81.7 178.2h1.1M67.5 186.0h1.1M88.4 176.9h1.1M98.3 166.5h1.1M90.5 166.2h1.1M79.2 170.1h1.1M87.1 169.3h1.1M103.7 176.1h1.1M73.8 203.6h1.1M92.5 178.2h1.1M100.7 176.2h1.1M95.1 166.5h1.1M106.1 161.6h1.1M102.4 167.4h1.1M89.5 166.2h1.1M89.8 166.8h1.1M98.5 168.9h1.1M84.8 176.2h1.1M86.4 168.8h1.1M100.8 169.6h1.1M107.7 158.8h1.1M93.6 180.4h1.1M90.5 174.3h1.1M91.6 171.1h1.1M103.7 165.1h1.1M90.0 173.3h1.1M101.6 160.2h1.1M80.6 178.8h1.1M92.3 179.2h1.1M91.8 178.7h1.1M103.3 175.0h1.1M93.7 157.9h1.1M75.7 182.7h1.1M81.0 178.4h1.1M94.7 172.5h1.1M83.2 176.3h1.1M75.1 182.2h1.1M103.5 170.7h1.1M96.2 171.4h1.1M90.8 164.5h1.1M92.0 184.2h1.1M104.3 171.8h1.1M86.5 172.8h1.1M104.3 170.5h1.1M79.8 176.7h1.1M87.8 185.8h1.1M92.0 171.4h1.1M81.4 174.9h1.1M95.6 167.3h1.1M90.3 168.2h1.1M83.4 181.5h1.1M92.4 174.4h1.1M88.0 176.7h1.1M97.1 164.7h1.1M70.6 159.7h1.1M87.4 177.6h1.1M94.4 155.7h1.1M112.3 159.4h1.1M113.6 165.6h1.1M92.7 175.0h1.1M91.4 170.5h1.1M104.2 162.2h1.1M89.3 174.2h1.1M80.0 178.1h1.1M89.7 170.2h1.1M91.4 166.1h1.1M88.2 186.0h1.1M76.0 185.6h1.1M81.8 189.1h1.1M96.0 168.0h1.1M84.4 179.7h1.1M89.0 174.1h1.1M94.8 174.9h1.1M99.9 173.9h1.1M88.9 177.6h1.1M92.8 167.0h1.1M79.8 176.3h1.1M94.4 185.1h1.1M80.6 179.8h1.1M100.1 164.5h1.1M96.6 181.7h1.1M88.7 184.8h1.1M89.9 179.2h1.1M87.4 173.5h1.1M106.8 181.1h1.1M78.1 187.3h1.1M83.8 184.1h1.1M86.9 175.8h1.1M108.3 148.8h1.1M94.3 160.4h1.1M91.6 176.9h1.1M99.0 171.0h1.1M108.7 158.2h1.1M84.2 169.7h1.1M81.9 169.2h1.1M100.7 163.7h1.1M89.7 163.0h1.1M100.7 173.9h1.1M91.0 183.5h1.1M119.8 174.9h1.1M110.0 166.4h1.1M93.8 167.0h1.1M93.7 164.7h1.1M58.8 170.7h1.1M94.4 166.4h1.1M88.5 174.5h1.1M98.8 175.9h1.1M99.6 172.3h1.1M90.3 179.4h1.1M76.5 187.1h1.1M97.0 174.8h1.1M90.1 186.7h1.1M83.7 170.9h1.1M83.7 175.9h1.1M82.3 169.3h1.1M76.5 198.6h1.1M107.2 172.0h1.1M96.3 176.1h1.1M96.3 160.0h1.1M109.6 160.9h1.1M90.3 172.6h1.1M75.0 187.2h1.1M82.1 179.4h1.1M82.1 185.2h1.1M84.9 175.5h1.1M95.1 177.8h1.1M73.8 189.4h1.1M92.9 170.1h1.1M76.9 184.1h1.1M91.9 169.6h1.1M93.3 178.9h1.1M87.1 174.8h1.1M91.5 176.0h1.1M84.5 175.8h1.1M79.5 170.7h1.1M79.4 190.6h1.1M86.5 168.8h1.1M110.4 164.4h1.1M110.6 162.1h1.1M96.4 156.2h1.1M93.6 164.2h1.1M82.8 176.2h1.1M100.8 159.6h1.1M85.8 168.3h1.1M93.3 178.3h1.1M87.4 174.8h1.1M93.4 175.3h1.1M85.3 174.9h1.1M91.5 176.2h1.1M78.2 177.8h1.1M87.5 176.5h1.1M114.0 160.8h1.1M90.5 174.7h1.1M87.0 173.3h1.1M91.5 164.7h1.1M98.1 169.8h1.1M82.3 183.7h1.1M88.1 174.1h1.1M96.2 163.6h1.1M95.6 174.9h1.1M102.0 185.8h1.1M103.9 161.4h1.1M86.2 180.5h1.1M93.3 175.3h1.1M76.0 164.5h1.1M105.0 164.1h1.1M70.5 184.2h1.1M90.5 185.8h1.1M85.2 176.4h1.1M93.9 165.3h1.1M95.6 168.6h1.1M104.3 165.0h1.1M74.5 182.3h1.1M97.6 168.4h1.1M82.9 169.1h1.1M84.1 177.6h1.1M99.0 174.2h1.1M90.5 190.6h1.1M75.0 192.3h1.1M88.7 178.0h1.1M82.2 190.7h1.1M89.2 183.8h1.1M101.0 179.9h1.1M98.2 177.3h1.1M104.9 162.2h1.1M90.2 176.7h1.1M77.8 185.8h1.1M85.4 180.9h1.1M83.5 181.5h1.1M76.8 178.6h1.1M86.5 160.1h1.1M82.5 175.1h1.1M65.0 177.6h1.1M97.6 169.4h1.1M90.0 174.8h1.1M87.5 162.9h1.1M94.7 176.8h1.1M100.2 174.0h1.1M91.7 174.2h1.1M108.9 173.8h1.1M102.3 180.6h1.1M89.7 165.0h1.1M98.9 176.4h1.1M79.6 186.6h1.1M91.2 177.3h1.1M92.4 180.6h1.1M90.0 168.8h1.1M76.3 180.6h1.1M102.5 158.2h1.1M88.9 169.4h1.1M79.6 182.1h1.1M69.7 178.7h1.1M84.3 170.6h1.1M92.5 177.6h1.1M84.2 178.7h1.1M93.4 175.3h1.1M77.6 168.9h1.1M92.9 166.1h1.1M82.2 176.3h1.1M90.8 174.4h1.1M97.5 164.1h1.1M118.0 160.6h1.1M81.6 180.8h1.1M86.9 177.4h1.1M83.4 180.0h1.1M100.9 172.1h1.1M78.7 179.7h1.1M91.1 183.2h1.1M92.6 176.6h1.1M82.7 181.7h1.1M82.5 181.0h1.1M88.8 180.0h1.1M76.0 194.1h1.1M81.7 189.1h1.1M88.8 178.8h1.1M95.9 177.4h1.1M89.8 175.9h1.1M79.9 193.0h1.1M86.7 177.1h1.1M89.9 157.7h1.1M101.4 176.9h1.1M90.7 175.1h1.1M78.3 174.3h1.1M95.9 168.5h1.1M82.2 173.6h1.1M88.8 193.0h1.1M85.7 182.2h1.1M97.8 155.7h1.1M95.2 175.2h1.1M99.9 163.8h1.1M94.3 187.2h1.1M95.3 162.0h1.1M76.6 166.7h1.1M89.8 175.5h1.1M112.1 154.6h1.1M96.3 166.4h1.1M77.9 166.6h1.1M91.9 176.8h1.1M100.7 180.3h1.1M94.3 155.7h1.1M91.3 183.5h1.1M72.9 183.4h1.1M97.9 188.0h1.1M92.9 176.1h1.1M91.2 172.3h1.1M107.4 170.3h1.1M96.0 174.5h1.1M96.0 165.2h1.1M83.9 185.4h1.1M96.8 165.2h1.1M102.8 150.0h1.1M106.1 178.9h1.1M91.9 170.4h1.1M90.0 169.8h1.1M108.6 163.1h1.1M76.4 172.6h1.1M84.6 167.9h1.1M93.2 168.2h1.1M95.7 166.1h1.1M87.3 177.5h1.1M98.3 177.6h1.1M86.6 173.5h1.1M94.1 175.7h1.1M92.2 178.0h1.1M76.3 176.5h1.1M91.7 175.3h1.1M95.2 163.0h1.1M86.5 186.3h1.1M90.6 178.0h1.1M97.1 169.4h1.1M75.9 174.7h1.1M93.1 173.3h1.1M78.3 177.6h1.1M104.1 169.6h1.1M111.5 157.0h1.1M106.1 155.5h1.1M92.7 180.3h1.1M100.6 172.5h1.1M89.7 170.1h1.1M96.6 179.2h1.1M103.8 161.5h1.1M77.8 181.8h1.1M101.1 167.2h1.1M87.5 170.5h1.1M102.0 161.8h1.1M92.1 171.9h1.1M91.0 186.6h1.1M99.5 179.7h1.1M96.6 167.5h1.1M97.8 182.0h1.1M95.2 170.3h1.1M87.8 179.6h1.1M75.2 193.6h1.1M100.3 169.1h1.1M107.0 181.4h1.1M93.3 174.2h1.1M86.8 167.4h1.1M105.6 173.3h1.1M85.2 175.1h1.1M83.4 177.4h1.1M77.3 160.0h1.1M105.8 170.7h1.1M81.7 188.0h1.1M105.0 169.7h1.1M89.1 183.5h1.1M87.8 190.5h1.1M102.2 164.8h1.1M93.9 179.5h1.1M76.2 179.4h1.1M86.3 174.7h1.1M103.7 172.8h1.1M103.4 167.6h1.1M81.8 170.2h1.1M96.1 173.0h1.1M96.7 168.0h1.1M81.9 174.4h1.1M96.0 173.7h1.1M89.1 172.2h1.1M79.9 169.8h1.1M82.1 171.8h1.1M98.7 182.6h1.1M85.2 166.0h1.1M86.8 179.1h1.1M89.6 180.1h1.1M103.6 169.4h1.1M88.0 166.2h1.1M97.7 166.1h1.1M102.5 166.2h1.1M99.5 173.9h1.1M109.0 154.6h1.1M78.9 173.9h1.1M102.3 173.4h1.1M92.5 181.9h1.1M109.3 162.8h1.1M104.0 158.8h1.1M74.9 189.9h1.1M82.7 181.4h1.1M100.4 173.6h1.1M93.2 162.0h1.1M98.1 169.4h1.1M89.7 173.7h1.1M90.7 165.1h1.1M97.8 170.5h1.1M90.4 174.7h1.1M98.7 164.6h1.1M72.1 192.0h1.1M91.1 162.2h1.1M81.4 181.0h1.1M101.4 169.4h1.1M90.1 177.1h1.1M87.3 185.8h1.1M89.6 165.2h1.1M76.7 172.7h1.1M83.7 181.7h1.1M78.6 187.4h1.1M99.2 185.0h1.1M98.0 173.6h1.1M96.8 162.3h1.1M92.9 179.1h1.1M97.1 162.2h1.1M85.2 166.3h1.1M100.6 188.0h1.1M97.5 171.6h1.1M103.5 170.2h1.1M90.2 179.3h1.1M96.0 185.0h1.1M90.7 176.6h1.1M96.6 179.7h1.1M78.7 175.1h1.1M94.7 159.6h1.1M93.1 184.1h1.1M101.1 178.3h1.1M85.6 182.5h1.1M95.2 172.6h1.1M95.2 172.1h1.1M84.4 173.5h1.1M115.5 167.6h1.1M97.0 174.7h1.1M109.1 164.0h1.1M101.2 169.1h1.1M89.2 184.1h1.1M89.6 179.3h1.1M97.9 174.7h1.1M86.9 167.6h1.1M93.5 176.3h1.1M97.2 187.2h1.1M72.5 184.1h1.1M88.4 174.9h1.1M74.5 194.3h1.1M98.2 176.3h1.1M86.9 182.3h1.1M78.0 170.8h1.1M91.0 178.1h1.1M88.7 166.0h1.1M74.7 179.9h1.1M77.3 189.2h1.1M80.2 180.0h1.1M75.7 192.6h1.1M94.8 197.0h1.1M108.5 166.7h1.1M84.3 185.2h1.1M93.3 164.8h1.1M76.0 180.4h1.1M89.5 166.4h1.1M86.0 173.5h1.1M86.1 168.8h1.1M93.5 166.6h1.1M106.1 160.5h1.1M88.8 167.5h1.1M86.4 165.9h1.1M76.7 173.9h1.1M98.1 172.2h1.1M89.0 176.0h1.1M102.6 173.4h1.1M94.8 179.7h1.1M105.4 159.9h1.1M75.7 191.5h1.1M82.5 168.7h1.1M108.1 179.5h1.1M92.6 182.6h1.1M83.0 178.5h1.1M83.9 169.9h1.1M80.0 185.7h1.1M84.6 163.6h1.1M110.0 152.7h1.1M104.4 169.7h1.1M81.3 182.2h1.1M81.1 177.7h1.1M91.1 181.7h1.1M95.9 161.6h1.1M84.7 181.3h1.1M82.8 176.3h1.1M95.6 163.4h1.1M100.7 170.3h1.1M83.6 171.6h1.1M88.5 191.7h1.1M74.6 182.0h1.1M92.6 189.1h1.1M66.4 184.2h1.1M100.2 171.8h1.1M80.5 172.3h1.1M90.0 163.7h1.1M108.6 161.6h1.1M104.3 169.2h1.1M75.5 175.6h1.1M103.6 173.9h1.1M98.3 161.7h1.1M84.8 180.0h1.1M83.9 182.7h1.1M92.4 177.8h1.1M69.3 176.1h1.1M110.8 171.9h1.1M71.5 193.9h1.1M79.3 179.7h1.1M84.5 170.7h1.1M82.2 166.9h1.1M87.1 165.9h1.1M95.6 174.9h1.1M87.7 173.8h1.1M96.8 160.2h1.1M69.5 186.4h1.1M97.3 182.0h1.1M83.2 177.4h1.1M89.9 170.1h1.1M98.4 179.4h1.1M84.6 182.8h1.1M85.4 178.8h1.1M95.8 165.3h1.1M88.0 163.6h1.1M80.2 172.8h1.1M107.6 157.1h1.1M111.0 156.5h1.1M79.2 186.2h1.1M95.9 174.7h1.1M114.6 157.4h1.1M99.0 169.6h1.1M89.0 167.3h1.1M80.5 164.4h1.1M84.0 175.2h1.1M85.3 170.6h1.1M83.4 174.6h1.1M96.7 167.3h1.1M82.4 170.4h1.1M82.6 171.4h1.1M79.7 182.0h1.1M91.0 174.9h1.1M80.3 177.0h1.1M91.4 177.8h1.1M99.6 165.5h1.1M90.2 166.2h1.1M95.7 170.6h1.1M101.8 181.1h1.1M88.8 170.1h1.1M94.5 180.9h1.1M93.7 183.2h1.1M103.9 176.3h1.1M77.9 177.5h1.1M111.2 174.8h1.1M91.8 174.4h1.1M83.2 178.0h1.1M85.6 176.3h1.1M87.3 181.9h1.1M92.7 173.1h1.1M83.8 178.2h1.1M106.5 172.5h1.1M81.0 175.8h1.1M66.2 184.7h1.1M87.5 183.2h1.1M75.6 191.8h1.1M95.0 179.9h1.1M96.3 161.0h1.1M101.2 175.0h1.1M80.8 185.9h1.1M91.1 188.4h1.1M102.1 155.0h1.1M94.8 172.9h1.1M89.9 172.5h1.1M94.2 158.4h1.1M110.4 153.0h1.1M107.3 170.6h1.1M90.4 170.6h1.1M91.3 167.8h1.1M100.1 174.1h1.1M89.4 183.4h1.1M85.4 186.6h1.1M88.3 169.6h1.1M82.2 180.4h1.1M94.6 179.7h1.1M89.2 170.0h1.1M109.2 153.6h1.1M86.6 184.3h1.1M96.1 182.9h1.1M84.9 169.3h1.1M84.6 157.6h1.1M94.7 159.2h1.1M82.5 172.3h1.1M83.0 179.1h1.1M78.6 188.8h1.1M82.0 179.8h1.1M93.1 166.6h1.1M92.0 174.5h1.1M77.9 176.3h1.1M87.4 176.4h1.1M88.7 170.5h1.1M106.3 184.2h1.1M88.9 182.4h1.1M85.4 171.5h1.1M70.5 181.8h1.1M78.8 179.9h1.1M99.1 154.1h1.1M68.2 185.8h1.1M85.0 172.6h1.1M96.5 177.0h1.1M85.9 174.5h1.1M80.5 175.7h1.1M85.1 167.6h1.1M86.2 168.0h1.1M90.0 174.2h1.1M73.1 186.2h1.1M94.2 180.9h1.1M80.7 176.8h1.1M90.3 183.3h1.1M94.1 173.7h1.1M96.8 169.4h1.1M91.1 157.4h1.1M81.3 170.9h1.1M102.3 171.3h1.1M107.2 172.8h1.1M102.1 167.0h1.1M106.6 168.1h1.1M88.0 172.9h1.1M87.9 173.3h1.1M95.8 164.8h1.1M82.5 188.7h1.1M94.3 174.3h1.1M85.3 176.6h1.1M86.3 174.9h1.1M77.4 189.2h1.1M84.2 182.0h1.1M87.5 169.9h1.1M105.9 176.5h1.1M101.0 168.3h1.1M90.3 174.6h1.1M95.2 182.9h1.1M87.6 185.1h1.1M94.3 170.7h1.1M90.9 178.5h1.1M92.2 164.2h1.1M104.3 158.3h1.1M81.7 162.7h1.1M82.3 190.9h1.1M75.6 170.4h1.1M80.5 187.8h1.1M76.8 178.2h1.1M98.9 159.7h1.1M92.3 171.4h1.1M78.3 186.1h1.1M99.4 172.5h1.1M109.5 174.2h1.1M89.2 178.4h1.1M88.4 183.3h1.1M85.5 173.3h1.1M96.4 175.6h1.1M97.4 170.3h1.1M99.9 163.3h1.1M101.6 164.9h1.1M101.5 165.3h1.1M104.1 165.3h1.1M98.6 171.4h1.1M75.1 182.2h1.1M86.8 171.1h1.1M96.8 175.6h1.1M80.7 168.0h1.1M96.8 164.4h1.1M93.9 184.5h1.1M71.8 166.7h1.1M101.3 160.2h1.1M99.8 172.8h1.1M86.4 164.0h1.1M109.8 180.7h1.1M90.3 153.2h1.1M99.8 178.9h1.1M75.0 199.4h1.1M88.5 183.5h1.1M86.0 176.1h1.1M83.5 182.8h1.1M89.2 168.0h1.1M105.0 169.7h1.1M82.1 171.7h1.1M79.6 180.6h1.1M113.4 164.7h1.1M82.4 171.5h1.1M78.4 180.9h1.1M93.8 173.2h1.1M89.5 164.1h1.1M89.3 185.0h1.1M99.5 170.1h1.1M80.5 169.7h1.1M82.4 180.3h1.1M89.5 168.8h1.1M95.4 165.2h1.1M85.6 178.9h1.1M91.2 168.0h1.1M94.0 179.6h1.1M113.8 150.4h1.1M88.5 184.0h1.1M103.4 164.0h1.1M94.0 178.8h1.1M87.7 172.1h1.1M95.5 166.3h1.1M94.5 161.8h1.1M104.8 168.0h1.1M97.7 176.5h1.1M94.0 189.1h1.1M91.3 184.4h1.1M96.6 171.7h1.1M95.4 168.8h1.1M105.2 166.1h1.1M94.7 170.9h1.1M106.5 174.0h1.1M108.5 168.1h1.1M89.1 168.5h1.1M74.8 181.0h1.1M85.8 189.4h1.1M79.2 185.8h1.1M104.5 161.5h1.1M88.1 186.1h1.1M100.6 163.3h1.1M95.2 168.4h1.1M104.7 159.5h1.1M92.2 156.9h1.1M93.5 179.2h1.1M84.3 169.2h1.1M89.5 170.5h1.1M89.6 168.9h1.1M89.1 181.5h1.1M90.4 173.9h1.1M105.6 162.7h1.1M68.9 177.4h1.1M93.0 171.7h1.1M76.9 172.9h1.1M93.9 174.2h1.1M100.1 169.9h1.1M90.4 174.3h1.1M106.2 179.0h1.1M78.7 188.0h1.1M103.4 169.2h1.1M86.1 179.0h1.1M95.9 168.6h1.1M96.5 177.7h1.1M72.0 197.9h1.1M78.9 172.7h1.1M97.2 177.8h1.1M107.1 165.6h1.1M97.4 176.9h1.1M95.2 174.6h1.1M73.2 177.6h1.1M99.3 157.9h1.1M114.7 170.6h1.1M92.3 175.1h1.1M83.3 168.3h1.1M77.7 187.2h1.1M97.6 165.9h1.1M108.1 145.4h1.1M88.3 157.2h1.1M96.0 156.8h1.1M97.0 171.6h1.1M81.9 180.7h1.1M102.1 163.3h1.1M81.0 184.2h1.1M91.5 178.6h1.1M85.1 161.3h1.1M97.8 166.2h1.1M91.5 166.8h1.1M89.6 164.9h1.1M81.9 176.6h1.1M78.8 182.5h1.1M90.5 172.2h1.1M78.7 171.6h1.1M77.2 180.8h1.1M87.6 193.3h1.1M82.3 172.1h1.1M67.5 178.5h1.1M79.9 185.0h1.1M78.6 188.6h1.1M94.5 175.1h1.1M90.2 165.4h1.1M113.2 164.9h1.1M74.3 180.6h1.1M80.3 173.0h1.1M96.8 164.4h1.1M88.6 175.0h1.1M90.9 180.0h1.1M109.0 165.1h1.1M87.8 176.3h1.1M84.3 187.0h1.1M79.4 183.7h1.1M97.6 176.2h1.1M88.1 164.6h1.1M72.3 175.6h1.1M85.2 185.0h1.1M90.3 163.1h1.1M95.0 168.4h1.1M84.8 178.1h1.1M94.7 167.1h1.1M94.4 167.6h1.1M80.4 193.8h1.1M78.0 163.3h1.1M98.3 175.6h1.1M95.0 189.8h1.1M71.7 189.3h1.1M88.4 175.9h1.1M100.7 172.4h1.1M112.6 172.2h1.1M66.4 183.4h1.1M115.0 155.9h1.1M80.0 181.0h1.1M101.9 170.1h1.1M102.8 166.1h1.1M102.5 170.4h1.1M90.7 170.8h1.1M80.7 182.5h1.1M94.0 166.1h1.1M81.9 175.7h1.1M67.6 191.1h1.1M116.1 153.2h1.1M92.7 163.0h1.1M113.8 169.2h1.1M82.2 179.8h1.1M98.8 156.5h1.1M109.8 168.4h1.1M102.1 159.2h1.1M92.8 176.8h1.1M80.0 182.4h1.1M90.4 176.5h1.1M71.7 190.5h1.1M73.3 183.1h1.1M92.0 173.6h1.1M90.2 191.4h1.1M80.6 163.7h1.1M90.3 175.1h1.1M110.2 162.6h1.1M98.5 159.4h1.1M85.1 167.3h1.1M110.6 176.5h1.1M82.4 177.6h1.1M96.3 187.0h1.1M101.4 170.3h1.1M80.1 183.2h1.1M90.4 178.4h1.1M81.6 186.6h1.1M96.8 179.2h1.1M107.5 164.7h1.1M84.8 180.1h1.1M93.8 173.3h1.1M88.3 187.3h1.1M83.9 186.3h1.1M75.8 177.6h1.1M101.6 160.4h1.1M113.7 159.0h1.1M92.9 167.4h1.1M83.0 177.1h1.1M93.6 164.1h1.1M86.9 175.0h1.1M100.0 170.5h1.1M97.6 177.0h1.1M93.6 172.1h1.1M104.8 180.3h1.1M85.4 177.7h1.1M100.1 193.2h1.1M79.4 191.3h1.1M89.0 179.7h1.1M76.1 181.5h1.1M78.4 160.6h1.1M81.7 180.0h1.1M92.6 174.2h1.1M102.8 180.6h1.1M72.6 177.0h1.1M91.3 189.5h1.1M81.4 179.4h1.1M100.7 172.4h1.1M96.3 148.9h1.1M99.3 168.7h1.1M86.5 174.7h1.1M107.0 167.1h1.1M77.6 185.2h1.1M100.0 157.5h1.1M88.8 183.5h1.1M68.6 197.2h1.1M117.4 158.3h1.1M109.3 168.0h1.1M86.1 186.9h1.1M92.4 172.7h1.1M83.6 168.6h1.1M86.4 166.2h1.1M83.0 191.4h1.1M87.7 182.5h1.1M95.6 171.2h1.1M91.3 170.2h1.1M102.0 165.7h1.1M91.8 173.6h1.1M110.9 155.6h1.1M81.7 175.5h1.1M102.0 183.2h1.1M74.5 188.7h1.1M77.2 179.8h1.1M97.8 157.9h1.1M79.6 177.0h1.1M98.7 173.9h1.1M93.5 178.3h1.1M80.7 180.3h1.1M88.1 176.7h1.1M85.1 176.1h1.1M82.2 171.8h1.1M103.0 175.3h1.1M98.4 171.3h1.1M95.7 190.8h1.1M79.8 176.5h1.1M93.0 171.3h1.1M93.6 179.2h1.1M99.3 165.5h1.1M109.5 148.1h1.1M94.8 163.2h1.1M91.1 174.8h1.1M90.8 177.0h1.1M82.9 179.6h1.1M86.8 185.6h1.1M85.9 186.2h1.1M88.7 178.5h1.1M87.2 177.2h1.1M96.7 167.4h1.1M89.6 179.6h1.1M92.9 180.1h1.1M80.2 182.9h1.1M107.7 164.7h1.1M94.3 168.7h1.1M101.6 154.1h1.1M94.2 163.2h1.1M107.6 167.4h1.1M90.5 178.0h1.1M103.9 177.1h1.1M115.7 155.1h1.1M83.4 187.1h1.1M107.0 172.4h1.1M110.4 167.1h1.1M92.4 167.9h1.1M97.2 167.6h1.1M103.1 165.6h1.1M81.0 173.7h1.1M96.7 173.5h1.1M87.1 185.5h1.1M82.8 176.4h1.1M93.2 188.6h1.1M88.5 173.5h1.1M91.5 171.9h1.1M94.2 169.5h1.1M75.0 180.6h1.1M111.0 161.8h1.1M101.8 165.7h1.1M104.4 177.2h1.1M90.1 179.7h1.1M92.3 177.4h1.1M95.2 168.9h1.1M89.2 163.8h1.1M75.0 185.7h1.1M94.5 164.3h1.1M121.9 157.7h1.1M73.7 187.2h1.1M106.9 175.3h1.1M97.4 175.1h1.1M93.3 179.1h1.1M104.7 165.2h1.1M80.8 183.7h1.1M95.1 176.2h1.1M108.3 168.1h1.1M86.3 171.8h1.1M89.1 179.6h1.1M102.6 186.6h1.1M86.5 176.8h1.1M104.4 161.4h1.1M79.8 177.1h1.1M93.3 160.2h1.1M84.1 189.2h1.1M97.5 169.4h1.1M91.2 176.3h1.1M74.3 202.2h1.1M101.0 186.9h1.1M77.5 177.2h1.1M91.1 182.6h1.1M107.8 166.0h1.1M82.2 184.2h1.1M83.0 184.2h1.1M104.3 163.4h1.1M98.4 181.3h1.1M107.8 165.9h1.1M95.4 173.4h1.1M87.8 186.8h1.1M94.0 179.1h1.1M104.3 167.4h1.1M101.1 168.8h1.1M98.0 183.0h1.1M93.5 176.3h1.1M89.6 174.4h1.1M82.2 173.8h1.1M107.6 158.2h1.1M86.9 168.6h1.1M80.9 182.8h1.1M87.6 178.8h1.1M89.6 158.2h1.1M97.1 169.4h1.1M92.3 178.3h1.1M85.4 179.7h1.1M87.4 169.0h1.1M80.5 192.7h1.1M76.1 179.9h1.1M93.5 161.9h1.1M82.2 172.0h1.1M94.4 171.2h1.1M106.3 170.2h1.1M101.7 175.3h1.1M92.0 174.9h1.1M106.1 152.4h1.1M94.6 165.8h1.1M84.1 172.0h1.1M97.1 167.8h1.1M87.7 162.0h1.1M83.5 180.8h1.1M94.3 176.8h1.1M88.9 174.4h1.1M74.5 190.7h1.1M85.6 170.5h1.1M82.5 168.6h1.1M84.4 173.9h1.1M80.3 191.9h1.1M91.8 181.9h1.1M88.8 172.0h1.1M96.8 179.4h1.1M79.1 180.6h1.1M102.9 177.1h1.1M81.6 185.3h1.1M87.1 173.3h1.1M106.3 168.6h1.1M81.5 175.1h1.1M82.5 172.9h1.1M95.2 158.8h1.1M88.5 178.1h1.1M88.0 175.9h1.1M92.8 172.0h1.1M99.1 164.3h1.1M76.2 197.4h1.1M81.6 177.9h1.1M78.7 177.6h1.1M85.9 188.3h1.1M88.7 187.5h1.1M84.5 181.8h1.1M86.8 162.9h1.1M80.3 177.4h1.1M94.6 176.3h1.1M94.8 171.2h1.1M90.4 187.3h1.1M86.7 166.1h1.1M108.9 165.6h1.1M91.5 168.5h1.1M90.4 185.4h1.1M90.1 174.1h1.1M86.6 185.9h1.1M90.9 168.7h1.1M93.4 160.5h1.1M79.0 174.2h1.1M86.6 172.4h1.1M97.2 160.7h1.1M91.2 183.7h1.1M98.1 179.5h1.1M82.6 182.8h1.1M79.3 174.6h1.1M85.8 177.1h1.1M108.0 155.1h1.1M93.1 184.3h1.1M87.5 179.4h1.1M87.9 180.5h1.1M87.9 173.1h1.1M88.9 159.1h1.1M89.6 168.7h1.1" stroke="#000" stroke-width="1.1" fill="none"/>
<rect x="57.0" y="13.4" width="196.0" height="195.79999999999998" fill="none" stroke="#000" stroke-width="1.3"/>
<line x1="143.5" y1="13.4" x2="143.5" y2="209.2" stroke="#000" stroke-width="1"/>
<line x1="57.0" y1="141.5" x2="253.0" y2="141.5" stroke="#000" stroke-width="1"/>
<path d="M57.00 209.2v4.5M57.0 209.20h-4.5M71.75 209.2v2.5M57.0 194.46h-2.5M80.38 209.2v2.5M57.0 185.84h-2.5M86.50 209.2v2.5M57.0 179.73h-2.5M91.25 209.2v2.5M57.0 174.99h-2.5M95.13 209.2v2.5M57.0 171.11h-2.5M98.41 209.2v2.5M57.0 167.83h-2.5M101.25 209.2v2.5M57.0 164.99h-2.5M103.76 209.2v2.5M57.0 162.49h-2.5M106.00 209.2v4.5M57.0 160.25h-4.5M120.75 209.2v2.5M57.0 145.51h-2.5M129.38 209.2v2.5M57.0 136.89h-2.5M135.50 209.2v2.5M57.0 130.78h-2.5M140.25 209.2v2.5M57.0 126.04h-2.5M144.13 209.2v2.5M57.0 122.16h-2.5M147.41 209.2v2.5M57.0 118.88h-2.5M150.25 209.2v2.5M57.0 116.04h-2.5M152.76 209.2v2.5M57.0 113.54h-2.5M155.00 209.2v4.5M57.0 111.30h-4.5M169.75 209.2v2.5M57.0 96.56h-2.5M178.38 209.2v2.5M57.0 87.94h-2.5M184.50 209.2v2.5M57.0 81.83h-2.5M189.25 209.2v2.5M57.0 77.09h-2.5M193.13 209.2v2.5M57.0 73.21h-2.5M196.41 209.2v2.5M57.0 69.93h-2.5M199.25 209.2v2.5M57.0 67.09h-2.5M201.76 209.2v2.5M57.0 64.59h-2.5M204.00 209.2v4.5M57.0 62.35h-4.5M218.75 209.2v2.5M57.0 47.61h-2.5M227.38 209.2v2.5M57.0 38.99h-2.5M233.50 209.2v2.5M57.0 32.88h-2.5M238.25 209.2v2.5M57.0 28.14h-2.5M242.13 209.2v2.5M57.0 24.26h-2.5M245.41 209.2v2.5M57.0 20.98h-2.5M248.25 209.2v2.5M57.0 18.14h-2.5M250.76 209.2v2.5M57.0 15.64h-2.5M253.0 209.2v4.5M57.0 13.4h-4.5" stroke="#000" stroke-width="1" fill="none"/>
<text x="44.5" y="212.4" font-size="9" font-family="Liberation Sans" font-weight="bold" text-anchor="end">10</text>
<text x="44.7" y="208.4" font-size="6" font-family="Liberation Sans" font-weight="bold">0</text>
<text x="58.5" y="227.6" font-size="9" font-family="Liberation Sans" font-weight="bold" text-anchor="end">10</text>
<text x="58.7" y="223.6" font-size="6" font-family="Liberation Sans" font-weight="bold">0</text>
<text x="44.5" y="163.4" font-size="9" font-family="Liberation Sans" font-weight="bold" text-anchor="end">10</text>
<text x="44.7" y="159.4" font-size="6" font-family="Liberation Sans" font-weight="bold">1</text>
<text x="107.5" y="227.6" font-size="9" font-family="Liberation Sans" font-weight="bold" text-anchor="end">10</text>
<text x="107.7" y="223.6" font-size="6" font-family="Liberation Sans" font-weight="bold">1</text>
<text x="44.5" y="114.5" font-size="9" font-family="Liberation Sans" font-weight="bold" text-anchor="end">10</text>
<text x="44.7" y="110.5" font-size="6" font-family="Liberation Sans" font-weight="bold">2</text>
<text x="156.5" y="227.6" font-size="9" font-family="Liberation Sans" font-weight="bold" text-anchor="end">10</text>
<text x="156.7" y="223.6" font-size="6" font-family="Liberation Sans" font-weight="bold">2</text>
<text x="44.5" y="65.5" font-size="9" font-family="Liberation Sans" font-weight="bold" text-anchor="end">10</text>
<text x="44.7" y="61.5" font-size="6" font-family="Liberation Sans" font-weight="bold">3</text>
<text x="205.5" y="227.6" font-size="9" font-family="Liberation Sans" font-weight="bold" text-anchor="end">10</text>
<text x="205.7" y="223.6" font-size="6" font-family="Liberation Sans" font-weight="bold">3</text>
<text x="44.5" y="16.6" font-size="9" font-family="Liberation Sans" font-weight="bold" text-anchor="end">10</text>
<text x="44.7" y="12.6" font-size="6" font-family="Liberation Sans" font-weight="bold">4</text>
<text x="254.5" y="227.6" font-size="9" font-family="Liberation Sans" font-weight="bold" text-anchor="end">10</text>
<text x="254.7" y="223.6" font-size="6" font-family="Liberation Sans" font-weight="bold">4</text>
<text x="155" y="246.4" font-size="11.2" font-family="Liberation Sans" font-weight="bold" text-anchor="middle">sh-N-cad-1 (GFP)</text>
<text transform="translate(23,110.6) rotate(-90)" font-size="11.3" font-family="Liberation Sans" font-weight="bold" text-anchor="middle">WT-N-cad (mKO)</text>
<rect x="59.5" y="73" width="78.2" height="63.3" fill="none" stroke="#5a85e6" stroke-width="2.2"/>
<rect x="155.8" y="73.2" width="78.5" height="63.6" fill="none" stroke="#7a1a1a" stroke-width="2.2"/>
<rect x="155.8" y="144.4" width="78.5" height="63.7" fill="none" stroke="#1d5a82" stroke-width="2.2"/>
<text x="98.4" y="67.8" font-size="11" font-family="Liberation Sans" font-weight="bold" fill="#6a8ee6" text-anchor="middle">sil.mut.N-cad</text>
<text x="194.6" y="43.2" font-size="11" font-family="Liberation Sans" font-weight="bold" fill="#7a2020" text-anchor="middle">shN-cad-1</text>
<text x="194.6" y="56" font-size="11" font-family="Liberation Sans" font-weight="bold" fill="#7a2020" text-anchor="middle">+</text>
<text x="194.9" y="68.3" font-size="11" font-family="Liberation Sans" font-weight="bold" fill="#7a2020" text-anchor="middle">sil.mut.N-cad</text>
<text x="194.6" y="203.3" font-size="11" font-family="Liberation Sans" font-weight="bold" fill="#1d5a82" text-anchor="middle">shN-cad-1</text>
<text x="0.3" y="13.8" font-size="17.5" font-family="Liberation Sans" font-weight="bold">A</text>
<text x="278.5" y="13.6" font-size="17.5" font-family="Liberation Sans" font-weight="bold">B</text>
<text x="0.2" y="302.2" font-size="17.5" font-family="Liberation Sans" font-weight="bold">C</text>
<text x="278.5" y="302.2" font-size="17.5" font-family="Liberation Sans" font-weight="bold">D</text>
<text x="0.3" y="590.5" font-size="17.5" font-family="Liberation Sans" font-weight="bold">E</text>
<text x="278.5" y="590.4" font-size="17.5" font-family="Liberation Sans" font-weight="bold">F</text>
<text transform="translate(303.3,111.7) rotate(-90)" font-size="14" font-family="Liberation Sans" font-weight="bold" text-anchor="middle">% donor cells</text>
<text x="423.1" y="12.3" font-size="13.5" font-family="Liberation Sans" font-weight="bold" text-anchor="middle">PB</text>
<rect x="336.25" y="154.26" width="38.3" height="51.04" fill="#5a5a5a"/>
<path d="M355.40 154.26V139.16M339.95 139.16H370.85" stroke="#555555" stroke-width="1.3" fill="none"/>
<text transform="translate(359.1,209.6) rotate(-90)" font-size="9.4" font-family="Liberation Sans" font-weight="bold" text-anchor="end">Scramble</text>
<rect x="381.6" y="138.69" width="38.3" height="66.61" fill="#5a8afc"/>
<path d="M400.75 138.69V128.39M385.30 128.39H416.20" stroke="#5a86ee" stroke-width="1.3" fill="none"/>
<text transform="translate(398.6,241.8) rotate(-90)" font-size="9.4" font-family="Liberation Sans" font-weight="bold" text-anchor="middle">sil.mut.N-cad<tspan font-size="8.6" dy="-3.6">+</tspan></text>
<text transform="translate(412.1,241.8) rotate(-90)" font-size="9.4" font-family="Liberation Sans" font-weight="bold" text-anchor="middle">shN-cad-1<tspan font-size="8.6" dy="-3.6">−</tspan></text>
<rect x="426.7" y="202.02" width="38.3" height="3.28" fill="#0b4a7a"/>
<path d="M445.85 202.02V201.79M430.40 201.79H461.30" stroke="#1b4a6e" stroke-width="1.3" fill="none"/>
<text transform="translate(443.7,241.8) rotate(-90)" font-size="9.4" font-family="Liberation Sans" font-weight="bold" text-anchor="middle">sil.mut.N-cad<tspan font-size="8.6" dy="-3.6">−</tspan></text>
<text transform="translate(457.2,241.8) rotate(-90)" font-size="9.4" font-family="Liberation Sans" font-weight="bold" text-anchor="middle">shN-cad-1<tspan font-size="8.6" dy="-3.6">+</tspan></text>
<rect x="472" y="94.21" width="38.3" height="111.09" fill="#780000"/>
<path d="M491.15 94.21V39.19M475.70 39.19H506.60" stroke="#6e1018" stroke-width="1.3" fill="none"/>
<text transform="translate(489.0,241.8) rotate(-90)" font-size="9.4" font-family="Liberation Sans" font-weight="bold" text-anchor="middle">sil.mut.N-cad<tspan font-size="8.6" dy="-3.6">+</tspan></text>
<text transform="translate(502.5,241.8) rotate(-90)" font-size="9.4" font-family="Liberation Sans" font-weight="bold" text-anchor="middle">shN-cad-1<tspan font-size="8.6" dy="-3.6">+</tspan></text>
<text x="454.7" y="205.0" font-size="19" font-family="Liberation Sans" font-weight="bold" text-anchor="middle">*</text>
<rect x="329.6" y="18.0" width="186.89999999999998" height="187.3" fill="none" stroke="#000" stroke-width="1.3"/>
<text x="325.2" y="208.7" font-size="9.5" font-family="Liberation Sans" font-weight="bold" text-anchor="end">0</text>
<text x="325.2" y="185.3" font-size="9.5" font-family="Liberation Sans" font-weight="bold" text-anchor="end">2</text>
<text x="325.2" y="161.9" font-size="9.5" font-family="Liberation Sans" font-weight="bold" text-anchor="end">4</text>
<text x="325.2" y="138.5" font-size="9.5" font-family="Liberation Sans" font-weight="bold" text-anchor="end">6</text>
<text x="325.2" y="115.1" font-size="9.5" font-family="Liberation Sans" font-weight="bold" text-anchor="end">8</text>
<text x="325.2" y="91.6" font-size="9.5" font-family="Liberation Sans" font-weight="bold" text-anchor="end">10</text>
<text x="325.2" y="68.2" font-size="9.5" font-family="Liberation Sans" font-weight="bold" text-anchor="end">12</text>
<text x="325.2" y="44.8" font-size="9.5" font-family="Liberation Sans" font-weight="bold" text-anchor="end">14</text>
<text x="325.2" y="21.4" font-size="9.5" font-family="Liberation Sans" font-weight="bold" text-anchor="end">16</text>
<path d="M329.6 205.30h3.3M329.6 181.89h3.3M329.6 158.48h3.3M329.6 135.06h3.3M329.6 111.65h3.3M329.6 88.24h3.3M329.6 64.82h3.3M329.6 41.41h3.3M329.6 18.00h3.3" stroke="#000" stroke-width="1.2" fill="none"/>
<text transform="translate(25.0,399.2) rotate(-90)" font-size="14" font-family="Liberation Sans" font-weight="bold" text-anchor="middle">% donor cells</text>
<text x="145.1" y="300.0" font-size="13.5" font-family="Liberation Sans" font-weight="bold" text-anchor="middle">BM MNCs</text>
<rect x="58.2" y="402.06" width="38.3" height="90.94" fill="#5a5a5a"/>
<path d="M77.35 402.06V360.19M61.90 360.19H92.80" stroke="#555555" stroke-width="1.3" fill="none"/>
<text transform="translate(81.0,497.3) rotate(-90)" font-size="9.4" font-family="Liberation Sans" font-weight="bold" text-anchor="end">Scramble</text>
<rect x="103.4" y="415.81" width="38.3" height="77.19" fill="#5a8afc"/>
<path d="M122.55 415.81V360.19M107.10 360.19H138.00" stroke="#5a86ee" stroke-width="1.3" fill="none"/>
<text transform="translate(120.4,529.5) rotate(-90)" font-size="9.4" font-family="Liberation Sans" font-weight="bold" text-anchor="middle">sil.mut.N-cad<tspan font-size="8.6" dy="-3.6">+</tspan></text>
<text transform="translate(133.9,529.5) rotate(-90)" font-size="9.4" font-family="Liberation Sans" font-weight="bold" text-anchor="middle">shN-cad-1<tspan font-size="8.6" dy="-3.6">−</tspan></text>
<rect x="148.5" y="469.88" width="38.3" height="23.12" fill="#0b4a7a"/>
<path d="M167.65 469.88V456.75M152.20 456.75H183.10" stroke="#1b4a6e" stroke-width="1.3" fill="none"/>
<text transform="translate(165.5,529.5) rotate(-90)" font-size="9.4" font-family="Liberation Sans" font-weight="bold" text-anchor="middle">sil.mut.N-cad<tspan font-size="8.6" dy="-3.6">−</tspan></text>
<text transform="translate(179.0,529.5) rotate(-90)" font-size="9.4" font-family="Liberation Sans" font-weight="bold" text-anchor="middle">shN-cad-1<tspan font-size="8.6" dy="-3.6">+</tspan></text>
<rect x="194" y="413.00" width="38.3" height="80.00" fill="#780000"/>
<path d="M213.15 413.00V357.06M197.70 357.06H228.60" stroke="#6e1018" stroke-width="1.3" fill="none"/>
<text transform="translate(211.0,529.5) rotate(-90)" font-size="9.4" font-family="Liberation Sans" font-weight="bold" text-anchor="middle">sil.mut.N-cad<tspan font-size="8.6" dy="-3.6">+</tspan></text>
<text transform="translate(224.5,529.5) rotate(-90)" font-size="9.4" font-family="Liberation Sans" font-weight="bold" text-anchor="middle">shN-cad-1<tspan font-size="8.6" dy="-3.6">+</tspan></text>
<text x="176.6" y="456.6" font-size="19" font-family="Liberation Sans" font-weight="bold" text-anchor="middle">*</text>
<rect x="51.3" y="305.5" width="187.5" height="187.5" fill="none" stroke="#000" stroke-width="1.3"/>
<text x="48.3" y="496.4" font-size="9.5" font-family="Liberation Sans" font-weight="bold" text-anchor="end">0</text>
<text x="48.3" y="465.1" font-size="9.5" font-family="Liberation Sans" font-weight="bold" text-anchor="end">1</text>
<text x="48.3" y="433.9" font-size="9.5" font-family="Liberation Sans" font-weight="bold" text-anchor="end">2</text>
<text x="48.3" y="402.6" font-size="9.5" font-family="Liberation Sans" font-weight="bold" text-anchor="end">3</text>
<text x="48.3" y="371.4" font-size="9.5" font-family="Liberation Sans" font-weight="bold" text-anchor="end">4</text>
<text x="48.3" y="340.1" font-size="9.5" font-family="Liberation Sans" font-weight="bold" text-anchor="end">5</text>
<text x="48.3" y="308.9" font-size="9.5" font-family="Liberation Sans" font-weight="bold" text-anchor="end">6</text>
<path d="M51.3 493.00h3.3M51.3 461.75h3.3M51.3 430.50h3.3M51.3 399.25h3.3M51.3 368.00h3.3M51.3 336.75h3.3M51.3 305.50h3.3" stroke="#000" stroke-width="1.2" fill="none"/>
<text transform="translate(303.3,399.6) rotate(-90)" font-size="14" font-family="Liberation Sans" font-weight="bold" text-anchor="middle">% donor cells</text>
<text x="423.0" y="300.0" font-size="13.5" font-family="Liberation Sans" font-weight="bold" text-anchor="middle">BM LSK cells</text>
<rect x="336.25" y="387.80" width="38.3" height="105.00" fill="#5a5a5a"/>
<path d="M355.40 387.80V370.83M339.95 370.83H370.85" stroke="#555555" stroke-width="1.3" fill="none"/>
<text transform="translate(359.1,497.1) rotate(-90)" font-size="9.4" font-family="Liberation Sans" font-weight="bold" text-anchor="end">Scramble</text>
<rect x="381.6" y="403.28" width="38.3" height="89.52" fill="#5a8afc"/>
<path d="M400.75 403.28V378.85M385.30 378.85H416.20" stroke="#5a86ee" stroke-width="1.3" fill="none"/>
<text transform="translate(398.6,529.3) rotate(-90)" font-size="9.4" font-family="Liberation Sans" font-weight="bold" text-anchor="middle">sil.mut.N-cad<tspan font-size="8.6" dy="-3.6">+</tspan></text>
<text transform="translate(412.1,529.3) rotate(-90)" font-size="9.4" font-family="Liberation Sans" font-weight="bold" text-anchor="middle">shN-cad-1<tspan font-size="8.6" dy="-3.6">−</tspan></text>
<rect x="426.7" y="481.05" width="38.3" height="11.75" fill="#0b4a7a"/>
<path d="M445.85 481.05V476.20M430.40 476.20H461.30" stroke="#1b4a6e" stroke-width="1.3" fill="none"/>
<text transform="translate(443.7,529.3) rotate(-90)" font-size="9.4" font-family="Liberation Sans" font-weight="bold" text-anchor="middle">sil.mut.N-cad<tspan font-size="8.6" dy="-3.6">−</tspan></text>
<text transform="translate(457.2,529.3) rotate(-90)" font-size="9.4" font-family="Liberation Sans" font-weight="bold" text-anchor="middle">shN-cad-1<tspan font-size="8.6" dy="-3.6">+</tspan></text>
<rect x="472" y="384.63" width="38.3" height="108.17" fill="#780000"/>
<path d="M491.15 384.63V345.47M475.70 345.47H506.60" stroke="#6e1018" stroke-width="1.3" fill="none"/>
<text transform="translate(489.0,529.3) rotate(-90)" font-size="9.4" font-family="Liberation Sans" font-weight="bold" text-anchor="middle">sil.mut.N-cad<tspan font-size="8.6" dy="-3.6">+</tspan></text>
<text transform="translate(502.5,529.3) rotate(-90)" font-size="9.4" font-family="Liberation Sans" font-weight="bold" text-anchor="middle">shN-cad-1<tspan font-size="8.6" dy="-3.6">+</tspan></text>
<text x="454.7" y="477.9" font-size="19" font-family="Liberation Sans" font-weight="bold" text-anchor="middle">*</text>
<rect x="329.6" y="306.3" width="186.79999999999995" height="186.5" fill="none" stroke="#000" stroke-width="1.3"/>
<text x="325.2" y="496.2" font-size="9.5" font-family="Liberation Sans" font-weight="bold" text-anchor="end">0</text>
<text x="325.2" y="458.9" font-size="9.5" font-family="Liberation Sans" font-weight="bold" text-anchor="end">2</text>
<text x="325.2" y="421.6" font-size="9.5" font-family="Liberation Sans" font-weight="bold" text-anchor="end">4</text>
<text x="325.2" y="384.3" font-size="9.5" font-family="Liberation Sans" font-weight="bold" text-anchor="end">6</text>
<text x="325.2" y="347.0" font-size="9.5" font-family="Liberation Sans" font-weight="bold" text-anchor="end">8</text>
<text x="325.2" y="309.7" font-size="9.5" font-family="Liberation Sans" font-weight="bold" text-anchor="end">10</text>
<path d="M329.6 492.80h3.3M329.6 455.50h3.3M329.6 418.20h3.3M329.6 380.90h3.3M329.6 343.60h3.3M329.6 306.30h3.3" stroke="#000" stroke-width="1.2" fill="none"/>
<text transform="translate(25.0,686.5) rotate(-90)" font-size="14" font-family="Liberation Sans" font-weight="bold" text-anchor="middle">% donor cells</text>
<text x="145.1" y="588.0" font-size="13.5" font-family="Liberation Sans" font-weight="bold" text-anchor="middle">Spleen MNCs</text>
<rect x="58" y="698.34" width="38.3" height="81.66" fill="#5a5a5a"/>
<path d="M77.15 698.34V693.04M61.70 693.04H92.60" stroke="#555555" stroke-width="1.3" fill="none"/>
<text transform="translate(80.9,784.3) rotate(-90)" font-size="9.4" font-family="Liberation Sans" font-weight="bold" text-anchor="end">Scramble</text>
<rect x="103.5" y="673.72" width="38.3" height="106.28" fill="#5a8afc"/>
<path d="M122.65 673.72V648.16M107.20 648.16H138.10" stroke="#5a86ee" stroke-width="1.3" fill="none"/>
<text transform="translate(120.5,816.5) rotate(-90)" font-size="9.4" font-family="Liberation Sans" font-weight="bold" text-anchor="middle">sil.mut.N-cad<tspan font-size="8.6" dy="-3.6">+</tspan></text>
<text transform="translate(134.0,816.5) rotate(-90)" font-size="9.4" font-family="Liberation Sans" font-weight="bold" text-anchor="middle">shN-cad-1<tspan font-size="8.6" dy="-3.6">−</tspan></text>
<rect x="148.4" y="716.11" width="38.3" height="63.89" fill="#0b4a7a"/>
<path d="M167.55 716.11V692.42M152.10 692.42H183.00" stroke="#1b4a6e" stroke-width="1.3" fill="none"/>
<text transform="translate(165.4,816.5) rotate(-90)" font-size="9.4" font-family="Liberation Sans" font-weight="bold" text-anchor="middle">sil.mut.N-cad<tspan font-size="8.6" dy="-3.6">−</tspan></text>
<text transform="translate(178.9,816.5) rotate(-90)" font-size="9.4" font-family="Liberation Sans" font-weight="bold" text-anchor="middle">shN-cad-1<tspan font-size="8.6" dy="-3.6">+</tspan></text>
<rect x="194" y="647.85" width="38.3" height="132.15" fill="#780000"/>
<path d="M213.15 647.85V602.04M197.70 602.04H228.60" stroke="#6e1018" stroke-width="1.3" fill="none"/>
<text transform="translate(211.0,816.5) rotate(-90)" font-size="9.4" font-family="Liberation Sans" font-weight="bold" text-anchor="middle">sil.mut.N-cad<tspan font-size="8.6" dy="-3.6">+</tspan></text>
<text transform="translate(224.5,816.5) rotate(-90)" font-size="9.4" font-family="Liberation Sans" font-weight="bold" text-anchor="middle">shN-cad-1<tspan font-size="8.6" dy="-3.6">+</tspan></text>
<rect x="51.3" y="593.0" width="187.5" height="187.0" fill="none" stroke="#000" stroke-width="1.3"/>
<text x="48.3" y="783.4" font-size="9.5" font-family="Liberation Sans" font-weight="bold" text-anchor="end">0</text>
<text x="48.3" y="752.2" font-size="9.5" font-family="Liberation Sans" font-weight="bold" text-anchor="end">1</text>
<text x="48.3" y="721.1" font-size="9.5" font-family="Liberation Sans" font-weight="bold" text-anchor="end">2</text>
<text x="48.3" y="689.9" font-size="9.5" font-family="Liberation Sans" font-weight="bold" text-anchor="end">3</text>
<text x="48.3" y="658.7" font-size="9.5" font-family="Liberation Sans" font-weight="bold" text-anchor="end">4</text>
<text x="48.3" y="627.6" font-size="9.5" font-family="Liberation Sans" font-weight="bold" text-anchor="end">5</text>
<text x="48.3" y="596.4" font-size="9.5" font-family="Liberation Sans" font-weight="bold" text-anchor="end">6</text>
<path d="M51.3 780.00h3.3M51.3 748.83h3.3M51.3 717.67h3.3M51.3 686.50h3.3M51.3 655.33h3.3M51.3 624.17h3.3M51.3 593.00h3.3" stroke="#000" stroke-width="1.2" fill="none"/>
<text transform="translate(303.3,686.4) rotate(-90)" font-size="14" font-family="Liberation Sans" font-weight="bold" text-anchor="middle">% donor cells</text>
<text x="423.1" y="588.0" font-size="13.5" font-family="Liberation Sans" font-weight="bold" text-anchor="middle">Spleen LSK cells</text>
<rect x="336.3" y="689.89" width="38.3" height="89.61" fill="#5a5a5a"/>
<path d="M355.45 689.89V674.43M340.00 674.43H370.90" stroke="#555555" stroke-width="1.3" fill="none"/>
<text transform="translate(359.1,783.8) rotate(-90)" font-size="9.4" font-family="Liberation Sans" font-weight="bold" text-anchor="end">Scramble</text>
<rect x="381.8" y="656.36" width="38.3" height="123.14" fill="#5a8afc"/>
<path d="M400.95 656.36V634.74M385.50 634.74H416.40" stroke="#5a86ee" stroke-width="1.3" fill="none"/>
<text transform="translate(398.8,816.0) rotate(-90)" font-size="9.4" font-family="Liberation Sans" font-weight="bold" text-anchor="middle">sil.mut.N-cad<tspan font-size="8.6" dy="-3.6">+</tspan></text>
<text transform="translate(412.3,816.0) rotate(-90)" font-size="9.4" font-family="Liberation Sans" font-weight="bold" text-anchor="middle">shN-cad-1<tspan font-size="8.6" dy="-3.6">−</tspan></text>
<rect x="426.9" y="679.08" width="38.3" height="100.42" fill="#0b4a7a"/>
<path d="M446.05 679.08V666.60M430.60 666.60H461.50" stroke="#1b4a6e" stroke-width="1.3" fill="none"/>
<text transform="translate(443.9,816.0) rotate(-90)" font-size="9.4" font-family="Liberation Sans" font-weight="bold" text-anchor="middle">sil.mut.N-cad<tspan font-size="8.6" dy="-3.6">−</tspan></text>
<text transform="translate(457.4,816.0) rotate(-90)" font-size="9.4" font-family="Liberation Sans" font-weight="bold" text-anchor="middle">shN-cad-1<tspan font-size="8.6" dy="-3.6">+</tspan></text>
<rect x="472" y="663.99" width="38.3" height="115.51" fill="#780000"/>
<path d="M491.15 663.99V635.68M475.70 635.68H506.60" stroke="#6e1018" stroke-width="1.3" fill="none"/>
<text transform="translate(489.0,816.0) rotate(-90)" font-size="9.4" font-family="Liberation Sans" font-weight="bold" text-anchor="middle">sil.mut.N-cad<tspan font-size="8.6" dy="-3.6">+</tspan></text>
<text transform="translate(502.5,816.0) rotate(-90)" font-size="9.4" font-family="Liberation Sans" font-weight="bold" text-anchor="middle">shN-cad-1<tspan font-size="8.6" dy="-3.6">+</tspan></text>
<rect x="329.6" y="593.2" width="186.89999999999998" height="186.29999999999995" fill="none" stroke="#000" stroke-width="1.3"/>
<text x="325.2" y="782.9" font-size="9.5" font-family="Liberation Sans" font-weight="bold" text-anchor="end">0</text>
<text x="325.2" y="745.6" font-size="9.5" font-family="Liberation Sans" font-weight="bold" text-anchor="end">2</text>
<text x="325.2" y="708.4" font-size="9.5" font-family="Liberation Sans" font-weight="bold" text-anchor="end">4</text>
<text x="325.2" y="671.1" font-size="9.5" font-family="Liberation Sans" font-weight="bold" text-anchor="end">6</text>
<text x="325.2" y="633.9" font-size="9.5" font-family="Liberation Sans" font-weight="bold" text-anchor="end">8</text>
<text x="325.2" y="596.6" font-size="9.5" font-family="Liberation Sans" font-weight="bold" text-anchor="end">10</text>
<path d="M329.6 779.50h3.3M329.6 742.24h3.3M329.6 704.98h3.3M329.6 667.72h3.3M329.6 630.46h3.3M329.6 593.20h3.3" stroke="#000" stroke-width="1.2" fill="none"/>
</svg>
</body></html>
